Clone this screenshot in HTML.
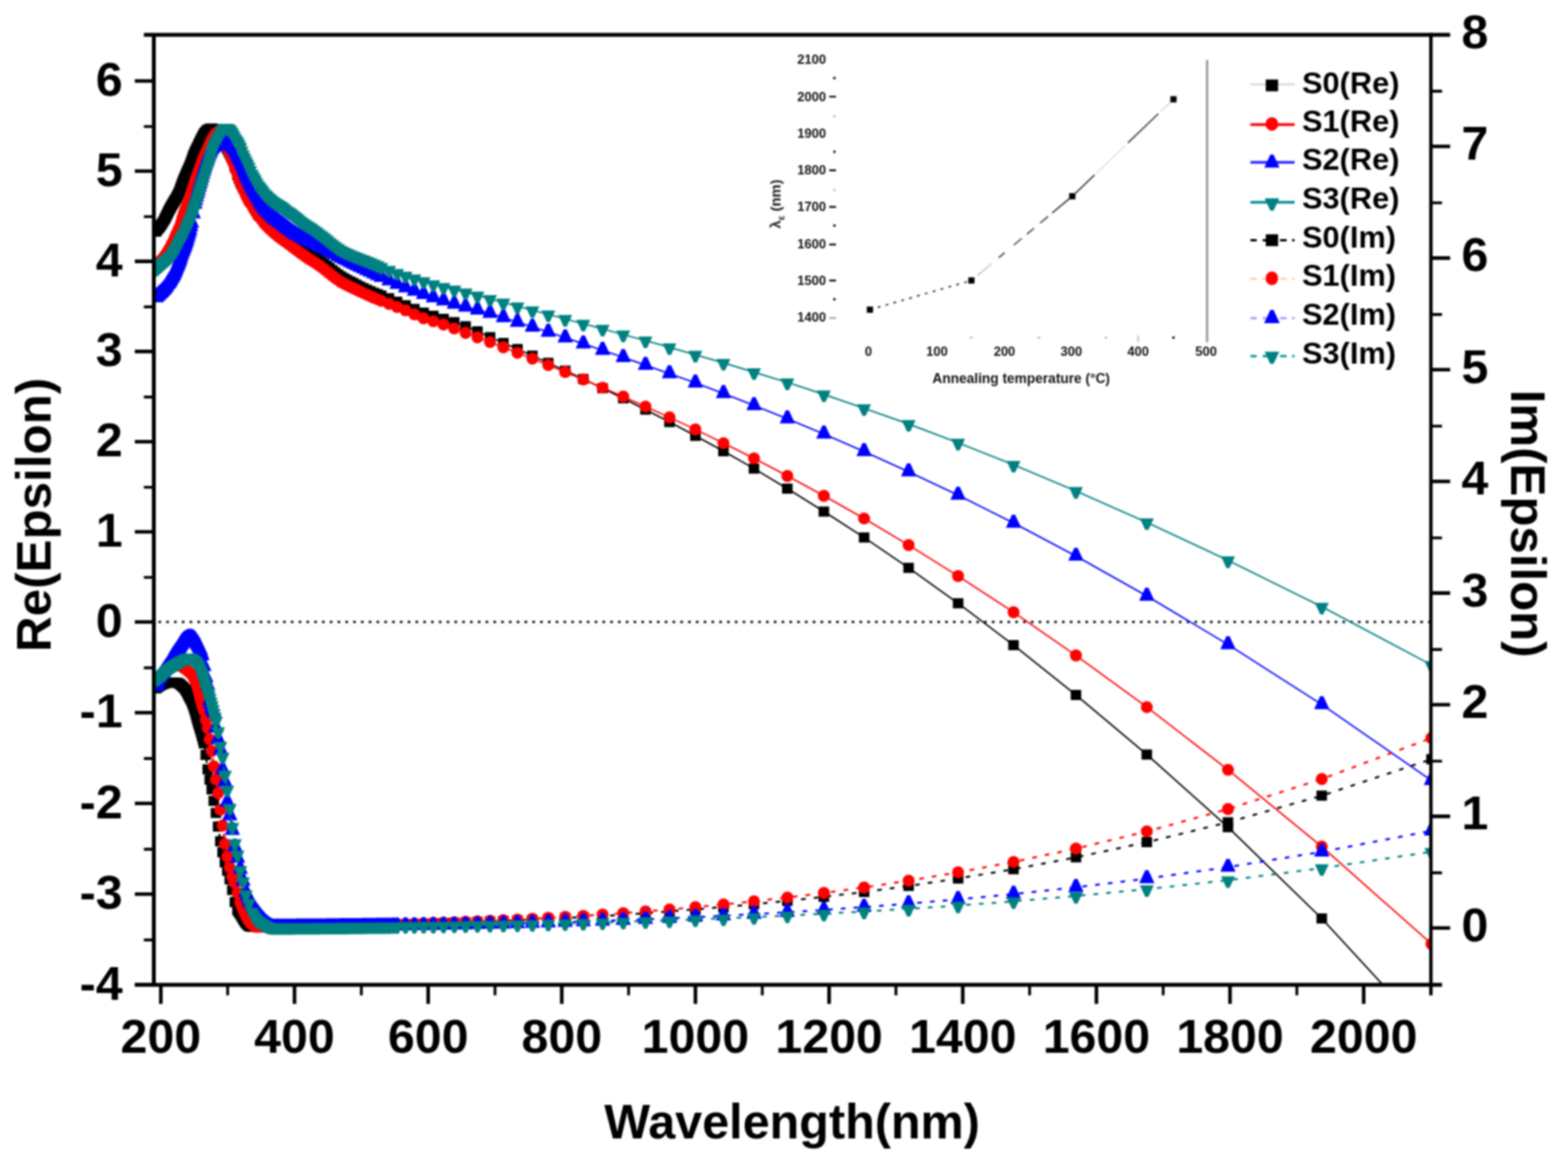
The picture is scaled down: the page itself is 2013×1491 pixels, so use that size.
<!DOCTYPE html>
<html lang="en"><head><meta charset="utf-8"><title>Re/Im Epsilon vs Wavelength</title>
<style>html,body{margin:0;padding:0;background:#fff}body{width:2013px;height:1491px;overflow:hidden}svg{display:block;filter:blur(0.8px)}</style>
</head><body>
<svg xmlns="http://www.w3.org/2000/svg" width="2013" height="1491" viewBox="0 0 2013 1491" font-family='"Liberation Sans", Arial, Helvetica, sans-serif' font-weight="bold">
<defs><clipPath id="cp"><rect x="197.5" y="44.8" width="1639.5" height="1220.0"/></clipPath></defs>
<rect width="2013" height="1491" fill="#fff"/>
<line x1="1549.7" y1="77" x2="1549.7" y2="439.5" stroke="#9a9a9a" stroke-width="3"/><g font-size="16.6" fill="#111"><text x="1060.5" y="82.4" text-anchor="end">2100</text><text x="1060.5" y="129.8" text-anchor="end">2000</text><text x="1060.5" y="176.6" text-anchor="end">1900</text><text x="1060.5" y="224" text-anchor="end">1800</text><text x="1060.5" y="271.4" text-anchor="end">1700</text><text x="1060.5" y="318.8" text-anchor="end">1600</text><text x="1060.5" y="366.2" text-anchor="end">1500</text><text x="1060.5" y="413" text-anchor="end">1400</text><text x="1114.9" y="456.6" text-anchor="middle">0</text><text x="1202.8" y="456.6" text-anchor="middle">100</text><text x="1289.5" y="456.6" text-anchor="middle">200</text><text x="1375.4" y="456.6" text-anchor="middle">300</text><text x="1461.1" y="456.6" text-anchor="middle">400</text><text x="1548.3" y="456.6" text-anchor="middle">500</text></g><path d="M1064.6 124.1H1073.2M1064.6 218.7H1073.2M1064.6 265.7H1073.2M1064.6 314H1073.2M1064.6 360.2H1073.2" stroke="#111" stroke-width="2.4" fill="none"/><path d="M1064.6 408.5H1073.2" stroke="#b9a0a0" stroke-width="2.4" fill="none"/><rect x="1069.7" y="98.7" width="3" height="3" fill="#111"/><rect x="1069.7" y="193.4" width="3" height="3" fill="#111"/><rect x="1069.7" y="288.2" width="3" height="3" fill="#111"/><rect x="1069.7" y="382.8" width="3" height="3" fill="#111"/><rect x="1505.0" y="432.0" width="3" height="3" fill="#111"/><rect x="1332.2" y="432.0" width="3" height="3" fill="#b8c4c0"/><rect x="1418.3" y="432.0" width="3" height="3" fill="#b8c4c0"/><rect x="1245.3" y="432.0" width="3" height="3" fill="#b8c4c0"/><rect x="1069.7" y="147.9" width="3" height="3" fill="#b8c4c0"/><rect x="1069.7" y="242.5" width="3" height="3" fill="#b8c4c0"/><line x1="1461.1" y1="431" x2="1461.1" y2="439" stroke="#c8bcd0" stroke-width="2"/><polyline fill="none" stroke="#333" stroke-width="2" stroke-dasharray="3.5 7" points="1116.8,397.7 1247.1,360.2"/><line x1="1254.9" y1="353.7" x2="1273" y2="338.6" stroke="#c4c4c4" stroke-width="1.8"/><line x1="1282.1" y1="331" x2="1289.8" y2="324.5" stroke="#444" stroke-width="1.8"/><line x1="1301.5" y1="314.8" x2="1311.8" y2="306.1" stroke="#555" stroke-width="1.8"/><line x1="1318.3" y1="300.7" x2="1327.4" y2="293.1" stroke="#444" stroke-width="1.8"/><line x1="1335.2" y1="286.6" x2="1345.5" y2="278" stroke="#444" stroke-width="1.8"/><line x1="1350.7" y1="273.6" x2="1372.7" y2="255.2" stroke="#333" stroke-width="1.8"/><line x1="1380.5" y1="248.3" x2="1405.2" y2="224.6" stroke="#333" stroke-width="1.8"/><line x1="1407.8" y1="222.1" x2="1444.1" y2="187.3" stroke="#e2e2e2" stroke-width="1.8"/><line x1="1448" y1="183.5" x2="1487" y2="146.2" stroke="#444" stroke-width="1.8"/><line x1="1489.6" y1="143.7" x2="1502.6" y2="131.2" stroke="#cfdfe4" stroke-width="1.8"/><rect x="1112.8" y="393.7" width="8" height="8" fill="#000"/><rect x="1243.1" y="356.2" width="8" height="8" fill="#000"/><rect x="1372.6" y="248" width="8" height="8" fill="#000"/><rect x="1502.5" y="123.5" width="8" height="8" fill="#000"/><text x="1311" y="492.3" font-size="17.6" text-anchor="middle" fill="#111">Annealing temperature (°C)</text><text transform="translate(1002 262) rotate(-90)" font-size="19" text-anchor="middle" fill="#222">λ<tspan font-size="13" dy="5">ε</tspan><tspan dy="-5"> (nm)</tspan></text>
<line x1="203.5" y1="798.8" x2="1837.0" y2="798.8" stroke="#000" stroke-width="3" stroke-dasharray="3.2 6.8"/>
<g clip-path="url(#cp)">
<polyline fill="none" stroke="#000000" stroke-width="1.9" points="1837.7,1332.5 1696.9,1179.6 1576.5,1062.2 1472.3,969 1381.3,892.4 1301.2,828.4 1230,774.8 1166.5,729.3 1109.3,690.3 1057.7,656.9 1010.8,627.6 968,601.8 928.8,579.4 892.7,559.7 859.5,541.9 828.7,526.1 800.1,511.6 773.6,498.6 748.8,486.7 725.6,476 703.9,466 683.5,456.8 664.3,448.3 646.2,440.4 629.1,433 613,425.6 597.7,419 583.2,413.7 569.4,409.4 556.3,405.4 543.8,401.4 532,396.8 520.6,392 509.8,387.5 499.4,383.1 489.5,379.4 480,376 470.8,372 462.1,367.9 453.7,363.6 445.6,359.5 437.8,355.1 430.3,349.8 423.1,344.1 416.2,338.6 409.4,333.6 403,329.3 396.7,325.2 390.7,321 384.8,316.7 379.1,312.4 373.7,308 368.4,303.6 363.2,299.2 358.2,294.7 353.4,290.2 348.7,285.8 344.1,281.4 339.7,277 335.4,272.6 331.2,268 327.1,263.3 323.2,258.3 319.3,253 315.6,247.2 311.9,240.8 308.4,233.5 304.9,225 301.5,214.6 298.2,204.3 295,197.5 291.8,191.6 288.8,184.8 285.8,178.2 282.9,172.9 280,169.2 277.2,166.7 274.5,165.4 271.8,164.9 269.2,165.2 266.7,166.4 264.2,168.9 261.7,172.1 259.3,176.3 257,181.1 254.7,185.8 252.4,190.5 250.2,195.1 248.1,200 246,205.9 243.9,211.9 241.9,216.9 239.9,221.3 237.9,225.7 236,230.3 234.1,235 232.3,240.1 230.4,245.2 228.7,249.6 226.9,253 225.2,255.9 223.5,258.7 221.9,261.4 220.2,264.2 218.6,267 217.1,269.9 215.5,273.1 214,276.3 212.5,279.4 211,282.2 209.6,284.8 208.2,287.1 206.8,289.1 205.4,291 204,292.6 202.7,294.2 201.4,295.9 200.1,297.6"/>
<path fill="#000000" d="M1831 1326h13.5v13h-13.5zM1690.1 1173.1h13.5v13h-13.5zM1569.7 1055.7h13.5v13h-13.5zM1465.5 962.5h13.5v13h-13.5zM1374.6 885.9h13.5v13h-13.5zM1294.4 821.9h13.5v13h-13.5zM1223.3 768.3h13.5v13h-13.5zM1159.7 722.8h13.5v13h-13.5zM1102.6 683.8h13.5v13h-13.5zM1050.9 650.4h13.5v13h-13.5zM1004 621.1h13.5v13h-13.5zM961.2 595.3h13.5v13h-13.5zM922 572.9h13.5v13h-13.5zM886 553.2h13.5v13h-13.5zM852.7 535.4h13.5v13h-13.5zM821.9 519.6h13.5v13h-13.5zM793.4 505.1h13.5v13h-13.5zM766.8 492.1h13.5v13h-13.5zM742 480.2h13.5v13h-13.5zM718.9 469.5h13.5v13h-13.5zM697.1 459.5h13.5v13h-13.5zM676.7 450.3h13.5v13h-13.5zM657.6 441.8h13.5v13h-13.5zM639.5 433.9h13.5v13h-13.5zM622.4 426.5h13.5v13h-13.5zM606.2 419.1h13.5v13h-13.5zM591 412.5h13.5v13h-13.5zM576.4 407.2h13.5v13h-13.5zM562.7 402.9h13.5v13h-13.5zM549.6 398.9h13.5v13h-13.5zM537.1 394.9h13.5v13h-13.5zM525.2 390.3h13.5v13h-13.5zM513.9 385.5h13.5v13h-13.5zM503 381h13.5v13h-13.5zM492.6 376.6h13.5v13h-13.5zM482.7 372.9h13.5v13h-13.5zM478 371.2h13.5v13h-13.5zM473.2 369.5h13.5v13h-13.5zM468.7 367.5h13.5v13h-13.5zM464.1 365.5h13.5v13h-13.5zM459.7 363.5h13.5v13h-13.5zM455.3 361.4h13.5v13h-13.5zM451.1 359.3h13.5v13h-13.5zM446.9 357.1h13.5v13h-13.5zM442.9 355.1h13.5v13h-13.5zM438.8 353h13.5v13h-13.5zM435 350.8h13.5v13h-13.5zM431.1 348.6h13.5v13h-13.5zM427.3 346h13.5v13h-13.5zM423.6 343.3h13.5v13h-13.5zM420 340.5h13.5v13h-13.5zM416.4 337.6h13.5v13h-13.5zM412.9 334.9h13.5v13h-13.5zM409.4 332.1h13.5v13h-13.5zM406.1 329.6h13.5v13h-13.5zM402.7 327.1h13.5v13h-13.5zM399.5 325h13.5v13h-13.5zM396.2 322.8h13.5v13h-13.5zM393.1 320.8h13.5v13h-13.5zM390 318.7h13.5v13h-13.5zM386.9 316.6h13.5v13h-13.5zM383.9 314.5h13.5v13h-13.5zM381 312.4h13.5v13h-13.5zM378.1 310.2h13.5v13h-13.5zM375.2 308.1h13.5v13h-13.5zM372.4 305.9h13.5v13h-13.5zM369.7 303.7h13.5v13h-13.5zM366.9 301.5h13.5v13h-13.5zM364.3 299.3h13.5v13h-13.5zM361.6 297.1h13.5v13h-13.5zM359 294.9h13.5v13h-13.5zM356.5 292.7h13.5v13h-13.5zM354 290.4h13.5v13h-13.5zM351.5 288.2h13.5v13h-13.5zM349.1 285.9h13.5v13h-13.5zM346.6 283.7h13.5v13h-13.5zM344.3 281.5h13.5v13h-13.5zM341.9 279.3h13.5v13h-13.5zM339.7 277.1h13.5v13h-13.5zM337.4 274.9h13.5v13h-13.5zM335.2 272.7h13.5v13h-13.5zM332.9 270.5h13.5v13h-13.5zM330.8 268.3h13.5v13h-13.5zM328.6 266.1h13.5v13h-13.5zM326.5 263.8h13.5v13h-13.5zM324.5 261.5h13.5v13h-13.5zM322.4 259.1h13.5v13h-13.5zM320.4 256.8h13.5v13h-13.5zM318.4 254.3h13.5v13h-13.5zM316.4 251.8h13.5v13h-13.5zM314.5 249.2h13.5v13h-13.5zM312.6 246.5h13.5v13h-13.5zM310.7 243.6h13.5v13h-13.5zM308.8 240.7h13.5v13h-13.5zM307 237.5h13.5v13h-13.5zM305.2 234.3h13.5v13h-13.5zM303.4 230.7h13.5v13h-13.5zM301.6 227h13.5v13h-13.5zM299.9 222.8h13.5v13h-13.5zM298.1 218.5h13.5v13h-13.5zM294.8 208.1h13.5v13h-13.5zM291.5 197.8h13.5v13h-13.5zM289.8 194.4h13.5v13h-13.5zM288.2 191h13.5v13h-13.5zM286.7 188h13.5v13h-13.5zM285.1 185.1h13.5v13h-13.5zM283.6 181.7h13.5v13h-13.5zM282 178.3h13.5v13h-13.5zM280.5 175h13.5v13h-13.5zM279 171.7h13.5v13h-13.5zM277.6 169.1h13.5v13h-13.5zM276.1 166.4h13.5v13h-13.5zM274.7 164.5h13.5v13h-13.5zM273.3 162.7h13.5v13h-13.5zM271.9 161.4h13.5v13h-13.5zM270.5 160.2h13.5v13h-13.5zM269.1 159.5h13.5v13h-13.5zM267.7 158.9h13.5v13h-13.5zM265.1 158.4h13.5v13h-13.5zM262.5 158.7h13.5v13h-13.5zM259.9 159.9h13.5v13h-13.5zM258.7 161.2h13.5v13h-13.5zM257.4 162.4h13.5v13h-13.5zM256.2 164h13.5v13h-13.5zM255 165.6h13.5v13h-13.5zM253.8 167.7h13.5v13h-13.5zM252.6 169.8h13.5v13h-13.5zM251.4 172.2h13.5v13h-13.5zM250.2 174.6h13.5v13h-13.5zM249.1 176.9h13.5v13h-13.5zM247.9 179.3h13.5v13h-13.5zM246.8 181.7h13.5v13h-13.5zM245.7 184h13.5v13h-13.5zM244.6 186.3h13.5v13h-13.5zM243.5 188.6h13.5v13h-13.5zM242.4 191h13.5v13h-13.5zM241.3 193.5h13.5v13h-13.5zM240.3 196.4h13.5v13h-13.5zM239.2 199.4h13.5v13h-13.5zM238.2 202.4h13.5v13h-13.5zM237.1 205.4h13.5v13h-13.5zM236.1 207.9h13.5v13h-13.5zM235.1 210.4h13.5v13h-13.5zM234.1 212.6h13.5v13h-13.5zM233.1 214.8h13.5v13h-13.5zM232.1 217h13.5v13h-13.5zM231.2 219.2h13.5v13h-13.5zM230.2 221.5h13.5v13h-13.5zM229.2 223.8h13.5v13h-13.5zM228.3 226.1h13.5v13h-13.5zM227.4 228.5h13.5v13h-13.5zM226.4 231.1h13.5v13h-13.5zM225.5 233.6h13.5v13h-13.5zM224.6 236.2h13.5v13h-13.5zM223.7 238.7h13.5v13h-13.5zM222.8 240.9h13.5v13h-13.5zM221.9 243.1h13.5v13h-13.5zM221 244.8h13.5v13h-13.5zM220.2 246.5h13.5v13h-13.5zM219.3 248h13.5v13h-13.5zM218.4 249.4h13.5v13h-13.5zM217.6 250.8h13.5v13h-13.5zM216.8 252.2h13.5v13h-13.5zM215.9 253.6h13.5v13h-13.5zM215.1 254.9h13.5v13h-13.5zM214.3 256.3h13.5v13h-13.5zM213.5 257.7h13.5v13h-13.5zM212.7 259.1h13.5v13h-13.5zM211.9 260.5h13.5v13h-13.5zM211.1 262h13.5v13h-13.5zM210.3 263.4h13.5v13h-13.5zM209.5 265h13.5v13h-13.5zM208.8 266.6h13.5v13h-13.5zM208 268.2h13.5v13h-13.5zM207.2 269.8h13.5v13h-13.5zM206.5 271.3h13.5v13h-13.5zM205.7 272.9h13.5v13h-13.5zM205 274.3h13.5v13h-13.5zM204.3 275.7h13.5v13h-13.5zM202.8 278.3h13.5v13h-13.5zM201.4 280.6h13.5v13h-13.5zM200 282.6h13.5v13h-13.5zM198.6 284.5h13.5v13h-13.5zM197.3 286.1h13.5v13h-13.5zM195.9 287.7h13.5v13h-13.5zM194.6 289.4h13.5v13h-13.5zM193.3 291.1h13.5v13h-13.5z"/>
<polyline fill="none" stroke="#ff0000" stroke-width="1.9" points="1837.7,1212.2 1696.9,1087.3 1576.5,988.6 1472.3,908.1 1381.3,841.8 1301.2,786.3 1230,739.8 1166.5,700 1109.3,665.9 1057.7,636.7 1010.8,611.2 968,588.6 928.8,569.1 892.7,551.5 859.5,536 828.7,522.1 800.1,509.3 773.6,497.9 748.8,487.3 725.6,477.8 703.9,468.9 683.5,460.6 664.3,453.1 646.2,446 629.1,439.4 613,433.2 597.7,427.5 583.2,421.9 569.4,416.7 556.3,412.6 543.8,408.7 532,403.7 520.6,398.5 509.8,394.3 499.4,390.3 489.5,386.4 480,382.5 470.8,378.4 462.1,374.3 453.7,370.2 445.6,366.3 437.8,362.2 430.3,357 423.1,351.3 416.2,345.8 409.4,340.7 403,336.4 396.7,332.5 390.7,328.5 384.8,324.3 379.1,320 373.7,315.9 368.4,311.9 363.2,308.2 358.2,304.5 353.4,300.6 348.7,296.4 344.1,292.1 339.7,287.5 335.4,281.6 331.2,277.3 327.1,270.4 323.2,263.5 319.3,258.2 315.6,250.6 311.9,241.7 308.4,234 304.9,224.3 301.5,214.9 298.2,205.4 295,197.4 291.8,188.6 288.8,178.8 285.8,171.7 282.9,168.6 280,169.3 277.2,171.3 274.5,174.6 271.8,179.3 269.2,185.1 266.7,191.3 264.2,196.7 261.7,202.1 259.3,208.3 257,214.8 254.7,220.6 252.4,226.5 250.2,233.1 248.1,240.4 246,247.3 243.9,253.6 241.9,258.9 239.9,263.8 237.9,268.7 236,274.3 234.1,280.8 232.3,286.9 230.4,291.9 228.7,296 226.9,299.8 225.2,303.6 223.5,307.4 221.9,311.1 220.2,314.5 218.6,317.5 217.1,320.2 215.5,322.7 214,325 212.5,327.2 211,329.2 209.6,331.1 208.2,332.8 206.8,334.3 205.4,335.5 204,336.6 202.7,337.7 201.4,338.9 200.1,340.1"/>
<path fill="#ff0000" d="M1830 1212.2a7.7 7.7 0 1 0 15.4 0a7.7 7.7 0 1 0 -15.4 0zM1689.2 1087.3a7.7 7.7 0 1 0 15.4 0a7.7 7.7 0 1 0 -15.4 0zM1568.8 988.6a7.7 7.7 0 1 0 15.4 0a7.7 7.7 0 1 0 -15.4 0zM1464.6 908.1a7.7 7.7 0 1 0 15.4 0a7.7 7.7 0 1 0 -15.4 0zM1373.6 841.8a7.7 7.7 0 1 0 15.4 0a7.7 7.7 0 1 0 -15.4 0zM1293.5 786.3a7.7 7.7 0 1 0 15.4 0a7.7 7.7 0 1 0 -15.4 0zM1222.3 739.8a7.7 7.7 0 1 0 15.4 0a7.7 7.7 0 1 0 -15.4 0zM1158.8 700a7.7 7.7 0 1 0 15.4 0a7.7 7.7 0 1 0 -15.4 0zM1101.6 665.9a7.7 7.7 0 1 0 15.4 0a7.7 7.7 0 1 0 -15.4 0zM1050 636.7a7.7 7.7 0 1 0 15.4 0a7.7 7.7 0 1 0 -15.4 0zM1003.1 611.2a7.7 7.7 0 1 0 15.4 0a7.7 7.7 0 1 0 -15.4 0zM960.3 588.6a7.7 7.7 0 1 0 15.4 0a7.7 7.7 0 1 0 -15.4 0zM921.1 569.1a7.7 7.7 0 1 0 15.4 0a7.7 7.7 0 1 0 -15.4 0zM885 551.5a7.7 7.7 0 1 0 15.4 0a7.7 7.7 0 1 0 -15.4 0zM851.8 536a7.7 7.7 0 1 0 15.4 0a7.7 7.7 0 1 0 -15.4 0zM821 522.1a7.7 7.7 0 1 0 15.4 0a7.7 7.7 0 1 0 -15.4 0zM792.4 509.3a7.7 7.7 0 1 0 15.4 0a7.7 7.7 0 1 0 -15.4 0zM765.9 497.9a7.7 7.7 0 1 0 15.4 0a7.7 7.7 0 1 0 -15.4 0zM741.1 487.3a7.7 7.7 0 1 0 15.4 0a7.7 7.7 0 1 0 -15.4 0zM717.9 477.8a7.7 7.7 0 1 0 15.4 0a7.7 7.7 0 1 0 -15.4 0zM696.2 468.9a7.7 7.7 0 1 0 15.4 0a7.7 7.7 0 1 0 -15.4 0zM675.8 460.6a7.7 7.7 0 1 0 15.4 0a7.7 7.7 0 1 0 -15.4 0zM656.6 453.1a7.7 7.7 0 1 0 15.4 0a7.7 7.7 0 1 0 -15.4 0zM638.5 446a7.7 7.7 0 1 0 15.4 0a7.7 7.7 0 1 0 -15.4 0zM621.4 439.4a7.7 7.7 0 1 0 15.4 0a7.7 7.7 0 1 0 -15.4 0zM605.3 433.2a7.7 7.7 0 1 0 15.4 0a7.7 7.7 0 1 0 -15.4 0zM590 427.5a7.7 7.7 0 1 0 15.4 0a7.7 7.7 0 1 0 -15.4 0zM575.5 421.9a7.7 7.7 0 1 0 15.4 0a7.7 7.7 0 1 0 -15.4 0zM561.7 416.7a7.7 7.7 0 1 0 15.4 0a7.7 7.7 0 1 0 -15.4 0zM548.6 412.6a7.7 7.7 0 1 0 15.4 0a7.7 7.7 0 1 0 -15.4 0zM536.1 408.7a7.7 7.7 0 1 0 15.4 0a7.7 7.7 0 1 0 -15.4 0zM524.3 403.7a7.7 7.7 0 1 0 15.4 0a7.7 7.7 0 1 0 -15.4 0zM512.9 398.5a7.7 7.7 0 1 0 15.4 0a7.7 7.7 0 1 0 -15.4 0zM502.1 394.3a7.7 7.7 0 1 0 15.4 0a7.7 7.7 0 1 0 -15.4 0zM491.7 390.3a7.7 7.7 0 1 0 15.4 0a7.7 7.7 0 1 0 -15.4 0zM481.8 386.4a7.7 7.7 0 1 0 15.4 0a7.7 7.7 0 1 0 -15.4 0zM477 384.4a7.7 7.7 0 1 0 15.4 0a7.7 7.7 0 1 0 -15.4 0zM472.3 382.5a7.7 7.7 0 1 0 15.4 0a7.7 7.7 0 1 0 -15.4 0zM467.7 380.4a7.7 7.7 0 1 0 15.4 0a7.7 7.7 0 1 0 -15.4 0zM463.1 378.4a7.7 7.7 0 1 0 15.4 0a7.7 7.7 0 1 0 -15.4 0zM458.8 376.4a7.7 7.7 0 1 0 15.4 0a7.7 7.7 0 1 0 -15.4 0zM454.4 374.3a7.7 7.7 0 1 0 15.4 0a7.7 7.7 0 1 0 -15.4 0zM450.2 372.3a7.7 7.7 0 1 0 15.4 0a7.7 7.7 0 1 0 -15.4 0zM446 370.2a7.7 7.7 0 1 0 15.4 0a7.7 7.7 0 1 0 -15.4 0zM441.9 368.3a7.7 7.7 0 1 0 15.4 0a7.7 7.7 0 1 0 -15.4 0zM437.9 366.3a7.7 7.7 0 1 0 15.4 0a7.7 7.7 0 1 0 -15.4 0zM434 364.2a7.7 7.7 0 1 0 15.4 0a7.7 7.7 0 1 0 -15.4 0zM430.1 362.2a7.7 7.7 0 1 0 15.4 0a7.7 7.7 0 1 0 -15.4 0zM426.4 359.6a7.7 7.7 0 1 0 15.4 0a7.7 7.7 0 1 0 -15.4 0zM422.6 357a7.7 7.7 0 1 0 15.4 0a7.7 7.7 0 1 0 -15.4 0zM419 354.2a7.7 7.7 0 1 0 15.4 0a7.7 7.7 0 1 0 -15.4 0zM415.4 351.3a7.7 7.7 0 1 0 15.4 0a7.7 7.7 0 1 0 -15.4 0zM411.9 348.6a7.7 7.7 0 1 0 15.4 0a7.7 7.7 0 1 0 -15.4 0zM408.5 345.8a7.7 7.7 0 1 0 15.4 0a7.7 7.7 0 1 0 -15.4 0zM405.1 343.3a7.7 7.7 0 1 0 15.4 0a7.7 7.7 0 1 0 -15.4 0zM401.7 340.7a7.7 7.7 0 1 0 15.4 0a7.7 7.7 0 1 0 -15.4 0zM398.5 338.6a7.7 7.7 0 1 0 15.4 0a7.7 7.7 0 1 0 -15.4 0zM395.3 336.4a7.7 7.7 0 1 0 15.4 0a7.7 7.7 0 1 0 -15.4 0zM392.1 334.5a7.7 7.7 0 1 0 15.4 0a7.7 7.7 0 1 0 -15.4 0zM389 332.5a7.7 7.7 0 1 0 15.4 0a7.7 7.7 0 1 0 -15.4 0zM386 330.5a7.7 7.7 0 1 0 15.4 0a7.7 7.7 0 1 0 -15.4 0zM383 328.5a7.7 7.7 0 1 0 15.4 0a7.7 7.7 0 1 0 -15.4 0zM380 326.4a7.7 7.7 0 1 0 15.4 0a7.7 7.7 0 1 0 -15.4 0zM377.1 324.3a7.7 7.7 0 1 0 15.4 0a7.7 7.7 0 1 0 -15.4 0zM374.3 322.1a7.7 7.7 0 1 0 15.4 0a7.7 7.7 0 1 0 -15.4 0zM371.4 320a7.7 7.7 0 1 0 15.4 0a7.7 7.7 0 1 0 -15.4 0zM368.7 317.9a7.7 7.7 0 1 0 15.4 0a7.7 7.7 0 1 0 -15.4 0zM366 315.9a7.7 7.7 0 1 0 15.4 0a7.7 7.7 0 1 0 -15.4 0zM363.3 313.9a7.7 7.7 0 1 0 15.4 0a7.7 7.7 0 1 0 -15.4 0zM360.7 311.9a7.7 7.7 0 1 0 15.4 0a7.7 7.7 0 1 0 -15.4 0zM358.1 310.1a7.7 7.7 0 1 0 15.4 0a7.7 7.7 0 1 0 -15.4 0zM355.5 308.2a7.7 7.7 0 1 0 15.4 0a7.7 7.7 0 1 0 -15.4 0zM353 306.4a7.7 7.7 0 1 0 15.4 0a7.7 7.7 0 1 0 -15.4 0zM350.5 304.5a7.7 7.7 0 1 0 15.4 0a7.7 7.7 0 1 0 -15.4 0zM348.1 302.6a7.7 7.7 0 1 0 15.4 0a7.7 7.7 0 1 0 -15.4 0zM345.7 300.6a7.7 7.7 0 1 0 15.4 0a7.7 7.7 0 1 0 -15.4 0zM343.3 298.5a7.7 7.7 0 1 0 15.4 0a7.7 7.7 0 1 0 -15.4 0zM341 296.4a7.7 7.7 0 1 0 15.4 0a7.7 7.7 0 1 0 -15.4 0zM338.7 294.3a7.7 7.7 0 1 0 15.4 0a7.7 7.7 0 1 0 -15.4 0zM336.4 292.1a7.7 7.7 0 1 0 15.4 0a7.7 7.7 0 1 0 -15.4 0zM334.2 289.8a7.7 7.7 0 1 0 15.4 0a7.7 7.7 0 1 0 -15.4 0zM332 287.5a7.7 7.7 0 1 0 15.4 0a7.7 7.7 0 1 0 -15.4 0zM329.8 284.5a7.7 7.7 0 1 0 15.4 0a7.7 7.7 0 1 0 -15.4 0zM327.7 281.6a7.7 7.7 0 1 0 15.4 0a7.7 7.7 0 1 0 -15.4 0zM325.6 279.4a7.7 7.7 0 1 0 15.4 0a7.7 7.7 0 1 0 -15.4 0zM323.5 277.3a7.7 7.7 0 1 0 15.4 0a7.7 7.7 0 1 0 -15.4 0zM321.5 273.8a7.7 7.7 0 1 0 15.4 0a7.7 7.7 0 1 0 -15.4 0zM319.4 270.4a7.7 7.7 0 1 0 15.4 0a7.7 7.7 0 1 0 -15.4 0zM317.5 267a7.7 7.7 0 1 0 15.4 0a7.7 7.7 0 1 0 -15.4 0zM315.5 263.5a7.7 7.7 0 1 0 15.4 0a7.7 7.7 0 1 0 -15.4 0zM313.5 260.9a7.7 7.7 0 1 0 15.4 0a7.7 7.7 0 1 0 -15.4 0zM311.6 258.2a7.7 7.7 0 1 0 15.4 0a7.7 7.7 0 1 0 -15.4 0zM309.7 254.4a7.7 7.7 0 1 0 15.4 0a7.7 7.7 0 1 0 -15.4 0zM307.9 250.6a7.7 7.7 0 1 0 15.4 0a7.7 7.7 0 1 0 -15.4 0zM306 246.1a7.7 7.7 0 1 0 15.4 0a7.7 7.7 0 1 0 -15.4 0zM304.2 241.7a7.7 7.7 0 1 0 15.4 0a7.7 7.7 0 1 0 -15.4 0zM302.4 237.8a7.7 7.7 0 1 0 15.4 0a7.7 7.7 0 1 0 -15.4 0zM300.7 234a7.7 7.7 0 1 0 15.4 0a7.7 7.7 0 1 0 -15.4 0zM298.9 229.1a7.7 7.7 0 1 0 15.4 0a7.7 7.7 0 1 0 -15.4 0zM297.2 224.3a7.7 7.7 0 1 0 15.4 0a7.7 7.7 0 1 0 -15.4 0zM295.5 219.6a7.7 7.7 0 1 0 15.4 0a7.7 7.7 0 1 0 -15.4 0zM293.8 214.9a7.7 7.7 0 1 0 15.4 0a7.7 7.7 0 1 0 -15.4 0zM292.2 210.2a7.7 7.7 0 1 0 15.4 0a7.7 7.7 0 1 0 -15.4 0zM290.5 205.4a7.7 7.7 0 1 0 15.4 0a7.7 7.7 0 1 0 -15.4 0zM288.9 201.4a7.7 7.7 0 1 0 15.4 0a7.7 7.7 0 1 0 -15.4 0zM287.3 197.4a7.7 7.7 0 1 0 15.4 0a7.7 7.7 0 1 0 -15.4 0zM285.7 193a7.7 7.7 0 1 0 15.4 0a7.7 7.7 0 1 0 -15.4 0zM284.1 188.6a7.7 7.7 0 1 0 15.4 0a7.7 7.7 0 1 0 -15.4 0zM282.6 183.7a7.7 7.7 0 1 0 15.4 0a7.7 7.7 0 1 0 -15.4 0zM281.1 178.8a7.7 7.7 0 1 0 15.4 0a7.7 7.7 0 1 0 -15.4 0zM279.6 175.3a7.7 7.7 0 1 0 15.4 0a7.7 7.7 0 1 0 -15.4 0zM278.1 171.7a7.7 7.7 0 1 0 15.4 0a7.7 7.7 0 1 0 -15.4 0zM276.6 170.2a7.7 7.7 0 1 0 15.4 0a7.7 7.7 0 1 0 -15.4 0zM275.2 168.6a7.7 7.7 0 1 0 15.4 0a7.7 7.7 0 1 0 -15.4 0zM272.3 169.3a7.7 7.7 0 1 0 15.4 0a7.7 7.7 0 1 0 -15.4 0zM270.9 170.3a7.7 7.7 0 1 0 15.4 0a7.7 7.7 0 1 0 -15.4 0zM269.5 171.3a7.7 7.7 0 1 0 15.4 0a7.7 7.7 0 1 0 -15.4 0zM268.1 172.9a7.7 7.7 0 1 0 15.4 0a7.7 7.7 0 1 0 -15.4 0zM266.8 174.6a7.7 7.7 0 1 0 15.4 0a7.7 7.7 0 1 0 -15.4 0zM265.4 176.9a7.7 7.7 0 1 0 15.4 0a7.7 7.7 0 1 0 -15.4 0zM264.1 179.3a7.7 7.7 0 1 0 15.4 0a7.7 7.7 0 1 0 -15.4 0zM262.8 182.2a7.7 7.7 0 1 0 15.4 0a7.7 7.7 0 1 0 -15.4 0zM261.5 185.1a7.7 7.7 0 1 0 15.4 0a7.7 7.7 0 1 0 -15.4 0zM260.2 188.2a7.7 7.7 0 1 0 15.4 0a7.7 7.7 0 1 0 -15.4 0zM259 191.3a7.7 7.7 0 1 0 15.4 0a7.7 7.7 0 1 0 -15.4 0zM257.7 194a7.7 7.7 0 1 0 15.4 0a7.7 7.7 0 1 0 -15.4 0zM256.5 196.7a7.7 7.7 0 1 0 15.4 0a7.7 7.7 0 1 0 -15.4 0zM255.2 199.4a7.7 7.7 0 1 0 15.4 0a7.7 7.7 0 1 0 -15.4 0zM254 202.1a7.7 7.7 0 1 0 15.4 0a7.7 7.7 0 1 0 -15.4 0zM252.8 205.2a7.7 7.7 0 1 0 15.4 0a7.7 7.7 0 1 0 -15.4 0zM251.6 208.3a7.7 7.7 0 1 0 15.4 0a7.7 7.7 0 1 0 -15.4 0zM250.4 211.6a7.7 7.7 0 1 0 15.4 0a7.7 7.7 0 1 0 -15.4 0zM249.3 214.8a7.7 7.7 0 1 0 15.4 0a7.7 7.7 0 1 0 -15.4 0zM248.1 217.7a7.7 7.7 0 1 0 15.4 0a7.7 7.7 0 1 0 -15.4 0zM247 220.6a7.7 7.7 0 1 0 15.4 0a7.7 7.7 0 1 0 -15.4 0zM245.9 223.5a7.7 7.7 0 1 0 15.4 0a7.7 7.7 0 1 0 -15.4 0zM244.7 226.5a7.7 7.7 0 1 0 15.4 0a7.7 7.7 0 1 0 -15.4 0zM243.6 229.8a7.7 7.7 0 1 0 15.4 0a7.7 7.7 0 1 0 -15.4 0zM242.5 233.1a7.7 7.7 0 1 0 15.4 0a7.7 7.7 0 1 0 -15.4 0zM241.5 236.7a7.7 7.7 0 1 0 15.4 0a7.7 7.7 0 1 0 -15.4 0zM240.4 240.4a7.7 7.7 0 1 0 15.4 0a7.7 7.7 0 1 0 -15.4 0zM239.3 243.8a7.7 7.7 0 1 0 15.4 0a7.7 7.7 0 1 0 -15.4 0zM238.3 247.3a7.7 7.7 0 1 0 15.4 0a7.7 7.7 0 1 0 -15.4 0zM237.2 250.5a7.7 7.7 0 1 0 15.4 0a7.7 7.7 0 1 0 -15.4 0zM236.2 253.6a7.7 7.7 0 1 0 15.4 0a7.7 7.7 0 1 0 -15.4 0zM235.2 256.3a7.7 7.7 0 1 0 15.4 0a7.7 7.7 0 1 0 -15.4 0zM234.2 258.9a7.7 7.7 0 1 0 15.4 0a7.7 7.7 0 1 0 -15.4 0zM233.2 261.4a7.7 7.7 0 1 0 15.4 0a7.7 7.7 0 1 0 -15.4 0zM232.2 263.8a7.7 7.7 0 1 0 15.4 0a7.7 7.7 0 1 0 -15.4 0zM231.2 266.2a7.7 7.7 0 1 0 15.4 0a7.7 7.7 0 1 0 -15.4 0zM230.2 268.7a7.7 7.7 0 1 0 15.4 0a7.7 7.7 0 1 0 -15.4 0zM229.2 271.5a7.7 7.7 0 1 0 15.4 0a7.7 7.7 0 1 0 -15.4 0zM228.3 274.3a7.7 7.7 0 1 0 15.4 0a7.7 7.7 0 1 0 -15.4 0zM227.3 277.6a7.7 7.7 0 1 0 15.4 0a7.7 7.7 0 1 0 -15.4 0zM226.4 280.8a7.7 7.7 0 1 0 15.4 0a7.7 7.7 0 1 0 -15.4 0zM225.5 283.9a7.7 7.7 0 1 0 15.4 0a7.7 7.7 0 1 0 -15.4 0zM224.6 286.9a7.7 7.7 0 1 0 15.4 0a7.7 7.7 0 1 0 -15.4 0zM223.7 289.4a7.7 7.7 0 1 0 15.4 0a7.7 7.7 0 1 0 -15.4 0zM222.7 291.9a7.7 7.7 0 1 0 15.4 0a7.7 7.7 0 1 0 -15.4 0zM221.9 294a7.7 7.7 0 1 0 15.4 0a7.7 7.7 0 1 0 -15.4 0zM221 296a7.7 7.7 0 1 0 15.4 0a7.7 7.7 0 1 0 -15.4 0zM220.1 297.9a7.7 7.7 0 1 0 15.4 0a7.7 7.7 0 1 0 -15.4 0zM219.2 299.8a7.7 7.7 0 1 0 15.4 0a7.7 7.7 0 1 0 -15.4 0zM218.4 301.7a7.7 7.7 0 1 0 15.4 0a7.7 7.7 0 1 0 -15.4 0zM217.5 303.6a7.7 7.7 0 1 0 15.4 0a7.7 7.7 0 1 0 -15.4 0zM216.7 305.5a7.7 7.7 0 1 0 15.4 0a7.7 7.7 0 1 0 -15.4 0zM215.8 307.4a7.7 7.7 0 1 0 15.4 0a7.7 7.7 0 1 0 -15.4 0zM215 309.3a7.7 7.7 0 1 0 15.4 0a7.7 7.7 0 1 0 -15.4 0zM214.2 311.1a7.7 7.7 0 1 0 15.4 0a7.7 7.7 0 1 0 -15.4 0zM213.3 312.8a7.7 7.7 0 1 0 15.4 0a7.7 7.7 0 1 0 -15.4 0zM212.5 314.5a7.7 7.7 0 1 0 15.4 0a7.7 7.7 0 1 0 -15.4 0zM211.7 316a7.7 7.7 0 1 0 15.4 0a7.7 7.7 0 1 0 -15.4 0zM210.9 317.5a7.7 7.7 0 1 0 15.4 0a7.7 7.7 0 1 0 -15.4 0zM210.1 318.8a7.7 7.7 0 1 0 15.4 0a7.7 7.7 0 1 0 -15.4 0zM209.4 320.2a7.7 7.7 0 1 0 15.4 0a7.7 7.7 0 1 0 -15.4 0zM207.8 322.7a7.7 7.7 0 1 0 15.4 0a7.7 7.7 0 1 0 -15.4 0zM206.3 325a7.7 7.7 0 1 0 15.4 0a7.7 7.7 0 1 0 -15.4 0zM204.8 327.2a7.7 7.7 0 1 0 15.4 0a7.7 7.7 0 1 0 -15.4 0zM203.3 329.2a7.7 7.7 0 1 0 15.4 0a7.7 7.7 0 1 0 -15.4 0zM201.9 331.1a7.7 7.7 0 1 0 15.4 0a7.7 7.7 0 1 0 -15.4 0zM200.5 332.8a7.7 7.7 0 1 0 15.4 0a7.7 7.7 0 1 0 -15.4 0zM199.1 334.3a7.7 7.7 0 1 0 15.4 0a7.7 7.7 0 1 0 -15.4 0zM197.7 335.5a7.7 7.7 0 1 0 15.4 0a7.7 7.7 0 1 0 -15.4 0zM196.3 336.6a7.7 7.7 0 1 0 15.4 0a7.7 7.7 0 1 0 -15.4 0zM195 337.7a7.7 7.7 0 1 0 15.4 0a7.7 7.7 0 1 0 -15.4 0zM193.7 338.9a7.7 7.7 0 1 0 15.4 0a7.7 7.7 0 1 0 -15.4 0zM192.4 340.1a7.7 7.7 0 1 0 15.4 0a7.7 7.7 0 1 0 -15.4 0z"/>
<polyline fill="none" stroke="#0000ff" stroke-width="1.9" points="1837.7,1002.3 1696.9,904.7 1576.5,827.7 1472.3,765.4 1381.3,714.1 1301.2,671.7 1230,635.8 1166.5,605.8 1109.3,579.8 1057.7,557.3 1010.8,537.8 968,520.7 928.8,505.3 892.7,491.7 859.5,479.8 828.7,469 800.1,458.9 773.6,449.8 748.8,441.5 725.6,433.7 703.9,426.4 683.5,419.9 664.3,413.7 646.2,407.8 629.1,402.2 613,397.9 597.7,394.2 583.2,390.4 569.4,386.3 556.3,382.2 543.8,378 532,373.8 520.6,369.5 509.8,365.1 499.4,360.5 489.5,355.9 480,351.5 470.8,347.2 462.1,343 453.7,338.9 445.6,334.8 437.8,330.9 430.3,326.8 423.1,322.9 416.2,319.3 409.4,316.1 403,313 396.7,310.1 390.7,307.1 384.8,304 379.1,300.9 373.7,297.2 368.4,293.2 363.2,289.2 358.2,285.4 353.4,281.9 348.7,277.8 344.1,273.4 339.7,268.6 335.4,262.8 331.2,255.3 327.1,248.2 323.2,241.4 319.3,233.6 315.6,225.4 311.9,216.3 308.4,207.8 304.9,200.4 301.5,193.5 298.2,188.7 295,186 291.8,184.7 288.8,184.6 285.8,184.9 282.9,185.3 280,185.9 277.2,186.9 274.5,188.6 271.8,191.8 269.2,197.6 266.7,204.5 264.2,211.1 261.7,219.3 259.3,228 257,236.1 254.7,244.2 252.4,252.4 250.2,262 248.1,274.4 246,286.5 243.9,295.4 241.9,302.2 239.9,309 237.9,314.7 236,319.4 234.1,324.1 232.3,329.6 230.4,335.1 228.7,339.5 226.9,343.6 225.2,348 223.5,351.7 221.9,354.8 220.2,357.6 218.6,360.2 217.1,362.7 215.5,365.3 214,367.7 212.5,369.8 211,371.5 209.6,373.1 208.2,374.6 206.8,375.9 205.4,377.2 204,378.5 202.7,379.8 201.4,381.1 200.1,382.3"/>
<path fill="#0000ff" d="M1835.7 991.6h4L1847.5 1008.3h-19.6zM1694.9 894h4L1706.7 910.7h-19.6zM1574.5 817h4L1586.3 833.7h-19.6zM1470.3 754.7h4L1482.1 771.4h-19.6zM1379.3 703.4h4L1391.1 720.1h-19.6zM1299.2 661h4L1311 677.7h-19.6zM1228 625.1h4L1239.8 641.8h-19.6zM1164.5 595.1h4L1176.3 611.8h-19.6zM1107.3 569.1h4L1119.1 585.8h-19.6zM1055.7 546.6h4L1067.5 563.3h-19.6zM1008.8 527.1h4L1020.6 543.8h-19.6zM966 510h4L977.8 526.7h-19.6zM926.8 494.6h4L938.6 511.3h-19.6zM890.7 481h4L902.5 497.7h-19.6zM857.5 469.1h4L869.3 485.8h-19.6zM826.7 458.3h4L838.5 475h-19.6zM798.1 448.2h4L809.9 464.9h-19.6zM771.6 439.1h4L783.4 455.8h-19.6zM746.8 430.8h4L758.6 447.5h-19.6zM723.6 423h4L735.4 439.7h-19.6zM701.9 415.7h4L713.7 432.4h-19.6zM681.5 409.2h4L693.3 425.9h-19.6zM662.3 403h4L674.1 419.7h-19.6zM644.2 397.1h4L656 413.8h-19.6zM627.1 391.5h4L638.9 408.2h-19.6zM611 387.2h4L622.8 403.9h-19.6zM595.7 383.5h4L607.5 400.2h-19.6zM581.2 379.7h4L593 396.4h-19.6zM567.4 375.6h4L579.2 392.3h-19.6zM554.3 371.5h4L566.1 388.2h-19.6zM541.8 367.3h4L553.6 384h-19.6zM530 363.1h4L541.8 379.8h-19.6zM518.6 358.8h4L530.4 375.5h-19.6zM507.8 354.4h4L519.6 371.1h-19.6zM497.4 349.8h4L509.2 366.5h-19.6zM487.5 345.2h4L499.3 361.9h-19.6zM482.7 343h4L494.5 359.7h-19.6zM478 340.8h4L489.8 357.5h-19.6zM473.4 338.6h4L485.2 355.3h-19.6zM468.8 336.5h4L480.6 353.2h-19.6zM464.5 334.4h4L476.3 351.1h-19.6zM460.1 332.3h4L471.9 349h-19.6zM455.9 330.2h4L467.7 346.9h-19.6zM451.7 328.2h4L463.5 344.9h-19.6zM447.6 326.2h4L459.4 342.9h-19.6zM443.6 324.1h4L455.4 340.8h-19.6zM439.7 322.2h4L451.5 338.9h-19.6zM435.8 320.2h4L447.6 336.9h-19.6zM432.1 318.2h4L443.9 334.9h-19.6zM428.3 316.1h4L440.1 332.8h-19.6zM424.7 314.2h4L436.5 330.9h-19.6zM421.1 312.2h4L432.9 328.9h-19.6zM417.6 310.4h4L429.4 327.1h-19.6zM414.2 308.6h4L426 325.3h-19.6zM410.8 307h4L422.6 323.7h-19.6zM407.4 305.4h4L419.2 322.1h-19.6zM404.2 303.8h4L416 320.5h-19.6zM401 302.3h4L412.8 319h-19.6zM397.8 300.8h4L409.6 317.5h-19.6zM394.7 299.4h4L406.5 316.1h-19.6zM391.7 297.9h4L403.5 314.6h-19.6zM388.7 296.4h4L400.5 313.1h-19.6zM385.7 294.8h4L397.5 311.5h-19.6zM382.8 293.3h4L394.6 310h-19.6zM380 291.7h4L391.8 308.4h-19.6zM377.1 290.2h4L388.9 306.9h-19.6zM374.4 288.3h4L386.2 305h-19.6zM371.7 286.5h4L383.5 303.2h-19.6zM369 284.5h4L380.8 301.2h-19.6zM366.4 282.5h4L378.2 299.2h-19.6zM363.8 280.5h4L375.6 297.2h-19.6zM361.2 278.5h4L373 295.2h-19.6zM358.7 276.6h4L370.5 293.3h-19.6zM356.2 274.7h4L368 291.4h-19.6zM353.8 272.9h4L365.6 289.6h-19.6zM351.4 271.2h4L363.2 287.9h-19.6zM349 269.1h4L360.8 285.8h-19.6zM346.7 267.1h4L358.5 283.8h-19.6zM344.4 264.9h4L356.2 281.6h-19.6zM342.1 262.7h4L353.9 279.4h-19.6zM339.9 260.3h4L351.7 277h-19.6zM337.7 257.9h4L349.5 274.6h-19.6zM335.5 255h4L347.3 271.7h-19.6zM333.4 252.1h4L345.2 268.8h-19.6zM331.3 248.3h4L343.1 265h-19.6zM329.2 244.6h4L341 261.3h-19.6zM327.2 241.1h4L339 257.8h-19.6zM325.1 237.5h4L336.9 254.2h-19.6zM323.2 234.1h4L335 250.8h-19.6zM321.2 230.7h4L333 247.4h-19.6zM319.2 226.8h4L331 243.5h-19.6zM317.3 222.9h4L329.1 239.6h-19.6zM315.4 218.8h4L327.2 235.5h-19.6zM313.6 214.7h4L325.4 231.4h-19.6zM311.7 210.1h4L323.5 226.8h-19.6zM309.9 205.6h4L321.7 222.3h-19.6zM308.1 201.3h4L319.9 218h-19.6zM306.4 197.1h4L318.2 213.8h-19.6zM304.6 193.4h4L316.4 210.1h-19.6zM302.9 189.7h4L314.7 206.4h-19.6zM301.2 186.2h4L313 202.9h-19.6zM299.5 182.8h4L311.3 199.5h-19.6zM297.9 180.4h4L309.7 197.1h-19.6zM296.2 178h4L308 194.7h-19.6zM294.6 176.7h4L306.4 193.4h-19.6zM293 175.3h4L304.8 192h-19.6zM291.4 174.6h4L303.2 191.3h-19.6zM289.8 174h4L301.6 190.7h-19.6zM288.3 173.9h4L300.1 190.6h-19.6zM286.8 173.9h4L298.6 190.6h-19.6zM285.3 174.1h4L297.1 190.8h-19.6zM283.8 174.2h4L295.6 190.9h-19.6zM280.9 174.6h4L292.7 191.3h-19.6zM278 175.2h4L289.8 191.9h-19.6zM275.2 176.2h4L287 192.9h-19.6zM273.8 177.1h4L285.6 193.8h-19.6zM272.5 177.9h4L284.3 194.6h-19.6zM271.1 179.5h4L282.9 196.2h-19.6zM269.8 181.1h4L281.6 197.8h-19.6zM268.5 184h4L280.3 200.7h-19.6zM267.2 186.9h4L279 203.6h-19.6zM265.9 190.3h4L277.7 207h-19.6zM264.7 193.8h4L276.5 210.5h-19.6zM263.4 197.1h4L275.2 213.8h-19.6zM262.2 200.4h4L274 217.1h-19.6zM260.9 204.5h4L272.7 221.2h-19.6zM259.7 208.6h4L271.5 225.3h-19.6zM258.5 212.9h4L270.3 229.6h-19.6zM257.3 217.3h4L269.1 234h-19.6zM256.1 221.3h4L267.9 238h-19.6zM255 225.4h4L266.8 242.1h-19.6zM253.8 229.4h4L265.6 246.1h-19.6zM252.7 233.5h4L264.5 250.2h-19.6zM251.6 237.6h4L263.4 254.3h-19.6zM250.4 241.7h4L262.2 258.4h-19.6zM249.3 246.5h4L261.1 263.2h-19.6zM248.2 251.3h4L260 268h-19.6zM246.1 263.7h4L257.9 280.4h-19.6zM244 275.8h4L255.8 292.5h-19.6zM242.9 280.3h4L254.7 297h-19.6zM241.9 284.7h4L253.7 301.4h-19.6zM240.9 288.1h4L252.7 304.8h-19.6zM239.9 291.5h4L251.7 308.2h-19.6zM238.9 294.9h4L250.7 311.6h-19.6zM237.9 298.3h4L249.7 315h-19.6zM236.9 301.1h4L248.7 317.8h-19.6zM235.9 304h4L247.7 320.7h-19.6zM234.9 306.4h4L246.7 323.1h-19.6zM234 308.7h4L245.8 325.4h-19.6zM233 311h4L244.8 327.7h-19.6zM232.1 313.4h4L243.9 330.1h-19.6zM231.2 316.1h4L243 332.8h-19.6zM230.3 318.9h4L242.1 335.6h-19.6zM229.4 321.7h4L241.2 338.4h-19.6zM228.4 324.4h4L240.2 341.1h-19.6zM227.6 326.6h4L239.4 343.3h-19.6zM226.7 328.8h4L238.5 345.5h-19.6zM225.8 330.8h4L237.6 347.5h-19.6zM224.9 332.9h4L236.7 349.6h-19.6zM224.1 335.1h4L235.9 351.8h-19.6zM223.2 337.3h4L235 354h-19.6zM222.4 339.1h4L234.2 355.8h-19.6zM221.5 341h4L233.3 357.7h-19.6zM220.7 342.6h4L232.5 359.3h-19.6zM219.9 344.1h4L231.7 360.8h-19.6zM219 345.5h4L230.8 362.2h-19.6zM218.2 346.9h4L230 363.6h-19.6zM217.4 348.2h4L229.2 364.9h-19.6zM216.6 349.5h4L228.4 366.2h-19.6zM215.8 350.8h4L227.6 367.5h-19.6zM215.1 352h4L226.9 368.7h-19.6zM214.3 353.3h4L226.1 370h-19.6zM213.5 354.6h4L225.3 371.3h-19.6zM212 357h4L223.8 373.7h-19.6zM210.5 359.1h4L222.3 375.8h-19.6zM209 360.8h4L220.8 377.5h-19.6zM207.6 362.4h4L219.4 379.1h-19.6zM206.2 363.9h4L218 380.6h-19.6zM204.8 365.2h4L216.6 381.9h-19.6zM203.4 366.5h4L215.2 383.2h-19.6zM202 367.8h4L213.8 384.5h-19.6zM200.7 369.1h4L212.5 385.8h-19.6zM199.4 370.4h4L211.2 387.1h-19.6zM198.1 371.6h4L209.9 388.3h-19.6z"/>
<polyline fill="none" stroke="#008080" stroke-width="1.9" points="1837.7,853.9 1696.9,779.2 1576.5,719.6 1472.3,670.8 1381.3,630.6 1301.2,596.9 1230,568.6 1166.5,544.5 1109.3,524.3 1057.7,506.5 1010.8,491.1 968,478 928.8,466 892.7,455.6 859.5,446 828.7,437.3 800.1,429.6 773.6,422.3 748.8,415.8 725.6,409.6 703.9,403.7 683.5,398.4 664.3,393.4 646.2,388.6 629.1,383.9 613,379.6 597.7,375.4 583.2,371.8 569.4,368.5 556.3,364.9 543.8,361.1 532,357.5 520.6,354 509.8,350.4 499.4,346.6 489.5,342.7 480,338.5 470.8,334.7 462.1,331.4 453.7,328.2 445.6,324.8 437.8,321 430.3,316 423.1,310.4 416.2,304.8 409.4,299.7 403,294.9 396.7,290.7 390.7,287.1 384.8,282.7 379.1,277.9 373.7,273.8 368.4,270.5 363.2,266.2 358.2,262.9 353.4,260.2 348.7,256.7 344.1,252.8 339.7,248.4 335.4,242.7 331.2,237.6 327.1,230.1 323.2,223.1 319.3,213.9 315.6,206.2 311.9,198.3 308.4,188.7 304.9,182 301.5,177.3 298.2,170.7 295,166.2 291.8,164.4 288.8,163.9 285.8,166.8 282.9,172.6 280,177.5 277.2,182 274.5,188.1 271.8,195.2 269.2,204.2 266.7,213.8 264.2,221.4 261.7,229.1 259.3,236.3 257,243.4 254.7,250.8 252.4,258 250.2,265 248.1,271.1 246,277.7 243.9,283.2 241.9,287.5 239.9,292.5 237.9,297.1 236,300.9 234.1,303.8 232.3,307.1 230.4,311 228.7,314.7 226.9,317.9 225.2,320.8 223.5,323.3 221.9,325.5 220.2,327.4 218.6,329.2 217.1,330.8 215.5,332.2 214,333.5 212.5,334.6 211,335.9 209.6,337.2 208.2,338.5 206.8,339.7 205.4,341 204,342.1 202.7,343.3 201.4,344.4 200.1,345.5"/>
<path fill="#008080" d="M1828.8 848.9h17.8L1839.7 863.7h-4zM1688 774.2h17.8L1698.9 789h-4zM1567.6 714.6h17.8L1578.5 729.4h-4zM1463.4 665.8h17.8L1474.3 680.6h-4zM1372.4 625.6h17.8L1383.3 640.4h-4zM1292.3 591.9h17.8L1303.2 606.7h-4zM1221.1 563.6h17.8L1232 578.4h-4zM1157.6 539.5h17.8L1168.5 554.3h-4zM1100.4 519.3h17.8L1111.3 534.1h-4zM1048.8 501.5h17.8L1059.7 516.3h-4zM1001.9 486.1h17.8L1012.8 500.9h-4zM959.1 473h17.8L970 487.8h-4zM919.9 461h17.8L930.8 475.8h-4zM883.8 450.6h17.8L894.7 465.4h-4zM850.6 441h17.8L861.5 455.8h-4zM819.8 432.3h17.8L830.7 447.1h-4zM791.2 424.6h17.8L802.1 439.4h-4zM764.7 417.3h17.8L775.6 432.1h-4zM739.9 410.8h17.8L750.8 425.6h-4zM716.7 404.6h17.8L727.6 419.4h-4zM695 398.7h17.8L705.9 413.5h-4zM674.6 393.4h17.8L685.5 408.2h-4zM655.4 388.4h17.8L666.3 403.2h-4zM637.3 383.6h17.8L648.2 398.4h-4zM620.2 378.9h17.8L631.1 393.7h-4zM604.1 374.6h17.8L615 389.4h-4zM588.8 370.4h17.8L599.7 385.2h-4zM574.3 366.8h17.8L585.2 381.6h-4zM560.5 363.5h17.8L571.4 378.3h-4zM547.4 359.9h17.8L558.3 374.7h-4zM534.9 356.1h17.8L545.8 370.9h-4zM523.1 352.5h17.8L534 367.3h-4zM511.7 349h17.8L522.6 363.8h-4zM500.9 345.4h17.8L511.8 360.2h-4zM490.5 341.6h17.8L501.4 356.4h-4zM480.6 337.7h17.8L491.5 352.5h-4zM475.8 335.6h17.8L486.7 350.4h-4zM471.1 333.5h17.8L482 348.3h-4zM466.5 331.6h17.8L477.4 346.4h-4zM461.9 329.7h17.8L472.8 344.5h-4zM457.6 328.1h17.8L468.5 342.9h-4zM453.2 326.4h17.8L464.1 341.2h-4zM449 324.8h17.8L459.9 339.6h-4zM444.8 323.2h17.8L455.7 338h-4zM440.7 321.5h17.8L451.6 336.3h-4zM436.7 319.8h17.8L447.6 334.6h-4zM432.8 317.9h17.8L443.7 332.7h-4zM428.9 316h17.8L439.8 330.8h-4zM425.2 313.5h17.8L436.1 328.3h-4zM421.4 311h17.8L432.3 325.8h-4zM417.8 308.2h17.8L428.7 323h-4zM414.2 305.4h17.8L425.1 320.2h-4zM410.7 302.6h17.8L421.6 317.4h-4zM407.3 299.8h17.8L418.2 314.6h-4zM403.9 297.2h17.8L414.8 312h-4zM400.5 294.7h17.8L411.4 309.5h-4zM397.3 292.3h17.8L408.2 307.1h-4zM394.1 289.9h17.8L405 304.7h-4zM390.9 287.8h17.8L401.8 302.6h-4zM387.8 285.7h17.8L398.7 300.5h-4zM384.8 283.9h17.8L395.7 298.7h-4zM381.8 282.1h17.8L392.7 296.9h-4zM378.8 279.9h17.8L389.7 294.7h-4zM375.9 277.7h17.8L386.8 292.5h-4zM373.1 275.3h17.8L384 290.1h-4zM370.2 272.9h17.8L381.1 287.7h-4zM367.5 270.9h17.8L378.4 285.7h-4zM364.8 268.8h17.8L375.7 283.6h-4zM362.1 267.1h17.8L373 281.9h-4zM359.5 265.5h17.8L370.4 280.3h-4zM356.9 263.3h17.8L367.8 278.1h-4zM354.3 261.2h17.8L365.2 276h-4zM351.8 259.5h17.8L362.7 274.3h-4zM349.3 257.9h17.8L360.2 272.7h-4zM346.9 256.6h17.8L357.8 271.4h-4zM344.5 255.2h17.8L355.4 270h-4zM342.1 253.4h17.8L353 268.2h-4zM339.8 251.7h17.8L350.7 266.5h-4zM337.5 249.7h17.8L348.4 264.5h-4zM335.2 247.8h17.8L346.1 262.6h-4zM333 245.6h17.8L343.9 260.4h-4zM330.8 243.4h17.8L341.7 258.2h-4zM328.6 240.6h17.8L339.5 255.4h-4zM326.5 237.7h17.8L337.4 252.5h-4zM324.4 235.1h17.8L335.3 249.9h-4zM322.3 232.6h17.8L333.2 247.4h-4zM320.3 228.8h17.8L331.2 243.6h-4zM318.2 225.1h17.8L329.1 239.9h-4zM316.3 221.6h17.8L327.2 236.4h-4zM314.3 218.1h17.8L325.2 232.9h-4zM312.3 213.5h17.8L323.2 228.3h-4zM310.4 208.9h17.8L321.3 223.7h-4zM308.5 205.1h17.8L319.4 219.9h-4zM306.7 201.2h17.8L317.6 216h-4zM304.8 197.3h17.8L315.7 212.1h-4zM303 193.3h17.8L313.9 208.1h-4zM301.2 188.5h17.8L312.1 203.3h-4zM299.5 183.7h17.8L310.4 198.5h-4zM297.7 180.3h17.8L308.6 195.1h-4zM296 177h17.8L306.9 191.8h-4zM294.3 174.7h17.8L305.2 189.5h-4zM292.6 172.3h17.8L303.5 187.1h-4zM291 169h17.8L301.9 183.8h-4zM289.3 165.7h17.8L300.2 180.5h-4zM287.7 163.5h17.8L298.6 178.3h-4zM286.1 161.2h17.8L297 176h-4zM284.5 160.3h17.8L295.4 175.1h-4zM282.9 159.4h17.8L293.8 174.2h-4zM281.4 159.1h17.8L292.3 173.9h-4zM279.9 158.9h17.8L290.8 173.7h-4zM278.4 160.3h17.8L289.3 175.1h-4zM276.9 161.8h17.8L287.8 176.6h-4zM275.4 164.7h17.8L286.3 179.5h-4zM274 167.6h17.8L284.9 182.4h-4zM272.5 170.1h17.8L283.4 184.9h-4zM271.1 172.5h17.8L282 187.3h-4zM269.7 174.8h17.8L280.6 189.6h-4zM268.3 177h17.8L279.2 191.8h-4zM266.9 180h17.8L277.8 194.8h-4zM265.6 183.1h17.8L276.5 197.9h-4zM264.2 186.6h17.8L275.1 201.4h-4zM262.9 190.2h17.8L273.8 205h-4zM261.6 194.7h17.8L272.5 209.5h-4zM260.3 199.2h17.8L271.2 214h-4zM259 204h17.8L269.9 218.8h-4zM257.8 208.8h17.8L268.7 223.6h-4zM256.5 212.6h17.8L267.4 227.4h-4zM255.3 216.4h17.8L266.2 231.2h-4zM254 220.2h17.8L264.9 235h-4zM252.8 224.1h17.8L263.7 238.9h-4zM251.6 227.7h17.8L262.5 242.5h-4zM250.4 231.3h17.8L261.3 246.1h-4zM249.2 234.9h17.8L260.1 249.7h-4zM248.1 238.4h17.8L259 253.2h-4zM246.9 242.1h17.8L257.8 256.9h-4zM245.8 245.8h17.8L256.7 260.6h-4zM244.7 249.4h17.8L255.6 264.2h-4zM243.5 253h17.8L254.4 267.8h-4zM242.4 256.5h17.8L253.3 271.3h-4zM241.3 260h17.8L252.2 274.8h-4zM240.3 263h17.8L251.2 277.8h-4zM239.2 266.1h17.8L250.1 280.9h-4zM238.1 269.4h17.8L249 284.2h-4zM237.1 272.7h17.8L248 287.5h-4zM236 275.4h17.8L246.9 290.2h-4zM235 278.2h17.8L245.9 293h-4zM234 280.4h17.8L244.9 295.2h-4zM233 282.5h17.8L243.9 297.3h-4zM232 285h17.8L242.9 299.8h-4zM231 287.5h17.8L241.9 302.3h-4zM230 289.8h17.8L240.9 304.6h-4zM229 292.1h17.8L239.9 306.9h-4zM228 294h17.8L238.9 308.8h-4zM227.1 295.9h17.8L238 310.7h-4zM226.1 297.4h17.8L237 312.2h-4zM225.2 298.8h17.8L236.1 313.6h-4zM224.3 300.5h17.8L235.2 315.3h-4zM223.4 302.1h17.8L234.3 316.9h-4zM222.5 304.1h17.8L233.4 318.9h-4zM221.5 306h17.8L232.4 320.8h-4zM220.7 307.9h17.8L231.6 322.7h-4zM219.8 309.7h17.8L230.7 324.5h-4zM218.9 311.3h17.8L229.8 326.1h-4zM218 312.9h17.8L228.9 327.7h-4zM217.2 314.3h17.8L228.1 329.1h-4zM216.3 315.8h17.8L227.2 330.6h-4zM215.5 317h17.8L226.4 331.8h-4zM214.6 318.3h17.8L225.5 333.1h-4zM213 320.5h17.8L223.9 335.3h-4zM211.3 322.4h17.8L222.2 337.2h-4zM209.7 324.2h17.8L220.6 339h-4zM208.2 325.8h17.8L219.1 340.6h-4zM206.6 327.2h17.8L217.5 342h-4zM205.1 328.5h17.8L216 343.3h-4zM203.6 329.6h17.8L214.5 344.4h-4zM202.1 330.9h17.8L213 345.7h-4zM200.7 332.2h17.8L211.6 347h-4zM199.3 333.5h17.8L210.2 348.3h-4zM197.9 334.7h17.8L208.8 349.5h-4zM196.5 336h17.8L207.4 350.8h-4zM195.1 337.1h17.8L206 351.9h-4zM193.8 338.3h17.8L204.7 353.1h-4zM192.5 339.4h17.8L203.4 354.2h-4zM191.2 340.5h17.8L202.1 355.3h-4z"/>
<polyline fill="none" stroke="#000000" stroke-width="2.5" stroke-dasharray="6 10.4" stroke-dashoffset="-5" points="1837.7,975 1696.9,1021.8 1576.5,1056 1472.3,1081.6 1381.3,1101.1 1301.2,1116.3 1230,1128.2 1166.5,1137.8 1109.3,1145.5 1057.7,1151.7 1010.8,1156.9 968,1161.2 928.8,1164.9 892.7,1167.9 859.5,1170.5 828.7,1172.8 800.1,1174.7 773.6,1176.4 748.8,1177.8 725.6,1179.1 703.9,1180.2 683.5,1181.2 664.3,1182 646.2,1182.8 629.1,1183.5 613,1184.1 597.7,1184.6 583.2,1185.1 569.4,1185.6 556.3,1186 543.8,1186.4 532,1186.7 520.6,1187 509.8,1187.3 499.4,1187.5 489.5,1187.8 480,1188 470.8,1188.2 462.1,1188.3 453.7,1188.5 445.6,1188.7 437.8,1188.8 430.3,1188.9 423.1,1189.1 416.2,1189.2 409.4,1189.3 403,1189.4 396.7,1189.5 390.7,1189.6 384.8,1189.6 379.1,1189.7 373.7,1189.8 368.4,1189.9 363.2,1189.9 358.2,1190 353.4,1190 348.7,1190.1 344.1,1190.1 339.7,1190.2 335.4,1190.2 331.2,1190.3 327.1,1190.3 323.2,1190.3 319.3,1189.2 315.6,1185.6 311.9,1180.2 308.4,1173.9 304.9,1168.9 301.5,1158.4 298.2,1143 295,1129.3 291.8,1118.3 288.8,1107.6 285.8,1094.4 282.9,1080.6 280,1061.4 277.2,1043.9 274.5,1028.5 271.8,1013.8 269.2,1001.2 266.7,988 264.2,969.5 261.7,954.8 259.3,945.4 257,936.8 254.7,929.3 252.4,921.6 250.2,913 248.1,906.1 246,900.3 243.9,896.3 241.9,892.6 239.9,888.3 237.9,885.2 236,883.2 234.1,881.4 232.3,879.8 230.4,878.3 228.7,877.2 226.9,876.8 225.2,876.7 223.5,876.6 221.9,876.6 220.2,876.6 218.6,876.7 217.1,876.8 215.5,876.9 214,877.1 212.5,877.4 211,877.7 209.6,878.3 208.2,878.9 206.8,879.6 205.4,880.4 204,881.3 202.7,882.3 201.4,883.3 200.1,884.1"/>
<path fill="#000000" d="M1831 968.5h13.5v13h-13.5zM1690.1 1015.3h13.5v13h-13.5zM1569.7 1049.5h13.5v13h-13.5zM1465.5 1075.1h13.5v13h-13.5zM1374.6 1094.6h13.5v13h-13.5zM1294.4 1109.8h13.5v13h-13.5zM1223.3 1121.7h13.5v13h-13.5zM1159.7 1131.3h13.5v13h-13.5zM1102.6 1139h13.5v13h-13.5zM1050.9 1145.2h13.5v13h-13.5zM1004 1150.4h13.5v13h-13.5zM961.2 1154.7h13.5v13h-13.5zM922 1158.4h13.5v13h-13.5zM886 1161.4h13.5v13h-13.5zM852.7 1164h13.5v13h-13.5zM821.9 1166.3h13.5v13h-13.5zM793.4 1168.2h13.5v13h-13.5zM766.8 1169.9h13.5v13h-13.5zM742 1171.3h13.5v13h-13.5zM718.9 1172.6h13.5v13h-13.5zM697.1 1173.7h13.5v13h-13.5zM676.7 1174.7h13.5v13h-13.5zM657.6 1175.5h13.5v13h-13.5zM639.5 1176.3h13.5v13h-13.5zM622.4 1177h13.5v13h-13.5zM606.2 1177.6h13.5v13h-13.5zM591 1178.1h13.5v13h-13.5zM576.4 1178.6h13.5v13h-13.5zM562.7 1179.1h13.5v13h-13.5zM549.6 1179.5h13.5v13h-13.5zM537.1 1179.9h13.5v13h-13.5zM525.2 1180.2h13.5v13h-13.5zM513.9 1180.5h13.5v13h-13.5zM503 1180.8h13.5v13h-13.5zM497.8 1180.9h13.5v13h-13.5zM492.6 1181h13.5v13h-13.5zM487.7 1181.1h13.5v13h-13.5zM482.7 1181.3h13.5v13h-13.5zM478 1181.4h13.5v13h-13.5zM473.2 1181.5h13.5v13h-13.5zM468.7 1181.6h13.5v13h-13.5zM464.1 1181.7h13.5v13h-13.5zM459.7 1181.8h13.5v13h-13.5zM455.3 1181.8h13.5v13h-13.5zM451.1 1181.9h13.5v13h-13.5zM446.9 1182h13.5v13h-13.5zM442.9 1182.1h13.5v13h-13.5zM438.8 1182.2h13.5v13h-13.5zM435 1182.2h13.5v13h-13.5zM431.1 1182.3h13.5v13h-13.5zM427.3 1182.4h13.5v13h-13.5zM423.6 1182.4h13.5v13h-13.5zM420 1182.5h13.5v13h-13.5zM416.4 1182.6h13.5v13h-13.5zM412.9 1182.6h13.5v13h-13.5zM409.4 1182.7h13.5v13h-13.5zM406.1 1182.7h13.5v13h-13.5zM402.7 1182.8h13.5v13h-13.5zM399.5 1182.8h13.5v13h-13.5zM396.2 1182.9h13.5v13h-13.5zM393.1 1182.9h13.5v13h-13.5zM390 1183h13.5v13h-13.5zM386.9 1183h13.5v13h-13.5zM383.9 1183.1h13.5v13h-13.5zM381 1183.1h13.5v13h-13.5zM378.1 1183.1h13.5v13h-13.5zM375.2 1183.2h13.5v13h-13.5zM372.4 1183.2h13.5v13h-13.5zM369.7 1183.3h13.5v13h-13.5zM366.9 1183.3h13.5v13h-13.5zM364.3 1183.3h13.5v13h-13.5zM361.6 1183.4h13.5v13h-13.5zM359 1183.4h13.5v13h-13.5zM356.5 1183.4h13.5v13h-13.5zM354 1183.4h13.5v13h-13.5zM351.5 1183.5h13.5v13h-13.5zM349.1 1183.5h13.5v13h-13.5zM346.6 1183.5h13.5v13h-13.5zM344.3 1183.6h13.5v13h-13.5zM341.9 1183.6h13.5v13h-13.5zM339.7 1183.6h13.5v13h-13.5zM337.4 1183.6h13.5v13h-13.5zM335.2 1183.7h13.5v13h-13.5zM332.9 1183.7h13.5v13h-13.5zM330.8 1183.7h13.5v13h-13.5zM328.6 1183.7h13.5v13h-13.5zM326.5 1183.7h13.5v13h-13.5zM324.5 1183.8h13.5v13h-13.5zM322.4 1183.8h13.5v13h-13.5zM320.4 1183.8h13.5v13h-13.5zM318.4 1183.8h13.5v13h-13.5zM316.4 1183.8h13.5v13h-13.5zM314.5 1183.3h13.5v13h-13.5zM312.6 1182.7h13.5v13h-13.5zM310.7 1180.9h13.5v13h-13.5zM308.8 1179.1h13.5v13h-13.5zM307 1176.4h13.5v13h-13.5zM305.2 1173.7h13.5v13h-13.5zM303.4 1170.6h13.5v13h-13.5zM301.6 1167.4h13.5v13h-13.5zM299.9 1164.9h13.5v13h-13.5zM298.1 1162.4h13.5v13h-13.5zM294.8 1151.9h13.5v13h-13.5zM291.5 1136.5h13.5v13h-13.5zM288.2 1122.8h13.5v13h-13.5zM285.1 1111.8h13.5v13h-13.5zM282 1101.1h13.5v13h-13.5zM279 1087.9h13.5v13h-13.5zM276.1 1074.1h13.5v13h-13.5zM273.3 1054.9h13.5v13h-13.5zM270.5 1037.4h13.5v13h-13.5zM267.7 1022h13.5v13h-13.5zM265.1 1007.3h13.5v13h-13.5zM262.5 994.7h13.5v13h-13.5zM259.9 981.5h13.5v13h-13.5zM257.4 963h13.5v13h-13.5zM255 948.3h13.5v13h-13.5zM253.8 943.6h13.5v13h-13.5zM252.6 938.9h13.5v13h-13.5zM251.4 934.6h13.5v13h-13.5zM250.2 930.3h13.5v13h-13.5zM249.1 926.6h13.5v13h-13.5zM247.9 922.8h13.5v13h-13.5zM246.8 919h13.5v13h-13.5zM245.7 915.1h13.5v13h-13.5zM244.6 910.8h13.5v13h-13.5zM243.5 906.5h13.5v13h-13.5zM242.4 903h13.5v13h-13.5zM241.3 899.6h13.5v13h-13.5zM240.3 896.7h13.5v13h-13.5zM239.2 893.8h13.5v13h-13.5zM238.2 891.8h13.5v13h-13.5zM237.1 889.8h13.5v13h-13.5zM236.1 888h13.5v13h-13.5zM235.1 886.1h13.5v13h-13.5zM234.1 884h13.5v13h-13.5zM233.1 881.8h13.5v13h-13.5zM232.1 880.2h13.5v13h-13.5zM231.2 878.7h13.5v13h-13.5zM229.2 876.7h13.5v13h-13.5zM227.4 874.9h13.5v13h-13.5zM225.5 873.3h13.5v13h-13.5zM223.7 871.8h13.5v13h-13.5zM221.9 870.7h13.5v13h-13.5zM220.2 870.3h13.5v13h-13.5zM218.4 870.2h13.5v13h-13.5zM216.8 870.1h13.5v13h-13.5zM215.1 870.1h13.5v13h-13.5zM213.5 870.1h13.5v13h-13.5zM211.9 870.2h13.5v13h-13.5zM210.3 870.3h13.5v13h-13.5zM208.8 870.4h13.5v13h-13.5zM207.2 870.6h13.5v13h-13.5zM205.7 870.9h13.5v13h-13.5zM204.3 871.2h13.5v13h-13.5zM202.8 871.8h13.5v13h-13.5zM201.4 872.4h13.5v13h-13.5zM200 873.1h13.5v13h-13.5zM198.6 873.9h13.5v13h-13.5zM197.3 874.8h13.5v13h-13.5zM195.9 875.8h13.5v13h-13.5zM194.6 876.8h13.5v13h-13.5zM193.3 877.6h13.5v13h-13.5z"/>
<polyline fill="none" stroke="#ff0000" stroke-width="2.5" stroke-dasharray="6 10.4" stroke-dashoffset="-5" points="1837.7,947.7 1696.9,1000.5 1576.5,1039 1472.3,1067.8 1381.3,1089.8 1301.2,1106.9 1230,1120.3 1166.5,1131 1109.3,1139.7 1057.7,1146.8 1010.8,1152.6 968,1157.5 928.8,1161.5 892.7,1165 859.5,1167.9 828.7,1170.4 800.1,1172.6 773.6,1174.5 748.8,1176.1 725.6,1177.5 703.9,1178.8 683.5,1179.9 664.3,1180.9 646.2,1181.7 629.1,1182.5 613,1183.2 597.7,1183.8 583.2,1184.4 569.4,1184.9 556.3,1185.3 543.8,1185.7 532,1186.1 520.6,1186.5 509.8,1186.8 499.4,1187.1 489.5,1187.3 480,1187.6 470.8,1187.8 462.1,1188 453.7,1188.2 445.6,1188.3 437.8,1188.5 430.3,1188.7 423.1,1188.8 416.2,1188.9 409.4,1189 403,1189.2 396.7,1189.3 390.7,1189.4 384.8,1189.4 379.1,1189.5 373.7,1189.6 368.4,1189.7 363.2,1189.8 358.2,1189.8 353.4,1189.9 348.7,1189.9 344.1,1190 339.7,1190 335.4,1190.1 331.2,1190.1 327.1,1190 323.2,1187.2 319.3,1182.7 315.6,1176.1 311.9,1167.5 308.4,1159 304.9,1146.8 301.5,1133.7 298.2,1125.5 295,1113.9 291.8,1100 288.8,1083.9 285.8,1060.2 282.9,1039.9 280,1018.5 277.2,1001.1 274.5,984.3 271.8,964.5 269.2,949.5 266.7,935 264.2,924.5 261.7,912.8 259.3,904.5 257,896.1 254.7,886.3 252.4,879.5 250.2,873.4 248.1,868.9 246,866.1 243.9,864.2 241.9,862.5 239.9,860.9 237.9,859.4 236,858 234.1,856.6 232.3,855.6 230.4,854.9 228.7,854.4 226.9,854.1 225.2,854.1 223.5,854.6 221.9,855.5 220.2,856.4 218.6,857.4 217.1,858.7 215.5,860.1 214,861.5 212.5,862.9 211,864.3 209.6,865.7 208.2,867.1 206.8,868.3 205.4,869.5 204,870.6 202.7,871.6 201.4,872.6 200.1,873.5"/>
<path fill="#ff0000" d="M1830 947.7a7.7 7.7 0 1 0 15.4 0a7.7 7.7 0 1 0 -15.4 0zM1689.2 1000.5a7.7 7.7 0 1 0 15.4 0a7.7 7.7 0 1 0 -15.4 0zM1568.8 1039a7.7 7.7 0 1 0 15.4 0a7.7 7.7 0 1 0 -15.4 0zM1464.6 1067.8a7.7 7.7 0 1 0 15.4 0a7.7 7.7 0 1 0 -15.4 0zM1373.6 1089.8a7.7 7.7 0 1 0 15.4 0a7.7 7.7 0 1 0 -15.4 0zM1293.5 1106.9a7.7 7.7 0 1 0 15.4 0a7.7 7.7 0 1 0 -15.4 0zM1222.3 1120.3a7.7 7.7 0 1 0 15.4 0a7.7 7.7 0 1 0 -15.4 0zM1158.8 1131a7.7 7.7 0 1 0 15.4 0a7.7 7.7 0 1 0 -15.4 0zM1101.6 1139.7a7.7 7.7 0 1 0 15.4 0a7.7 7.7 0 1 0 -15.4 0zM1050 1146.8a7.7 7.7 0 1 0 15.4 0a7.7 7.7 0 1 0 -15.4 0zM1003.1 1152.6a7.7 7.7 0 1 0 15.4 0a7.7 7.7 0 1 0 -15.4 0zM960.3 1157.5a7.7 7.7 0 1 0 15.4 0a7.7 7.7 0 1 0 -15.4 0zM921.1 1161.5a7.7 7.7 0 1 0 15.4 0a7.7 7.7 0 1 0 -15.4 0zM885 1165a7.7 7.7 0 1 0 15.4 0a7.7 7.7 0 1 0 -15.4 0zM851.8 1167.9a7.7 7.7 0 1 0 15.4 0a7.7 7.7 0 1 0 -15.4 0zM821 1170.4a7.7 7.7 0 1 0 15.4 0a7.7 7.7 0 1 0 -15.4 0zM792.4 1172.6a7.7 7.7 0 1 0 15.4 0a7.7 7.7 0 1 0 -15.4 0zM765.9 1174.5a7.7 7.7 0 1 0 15.4 0a7.7 7.7 0 1 0 -15.4 0zM741.1 1176.1a7.7 7.7 0 1 0 15.4 0a7.7 7.7 0 1 0 -15.4 0zM717.9 1177.5a7.7 7.7 0 1 0 15.4 0a7.7 7.7 0 1 0 -15.4 0zM696.2 1178.8a7.7 7.7 0 1 0 15.4 0a7.7 7.7 0 1 0 -15.4 0zM675.8 1179.9a7.7 7.7 0 1 0 15.4 0a7.7 7.7 0 1 0 -15.4 0zM656.6 1180.9a7.7 7.7 0 1 0 15.4 0a7.7 7.7 0 1 0 -15.4 0zM638.5 1181.7a7.7 7.7 0 1 0 15.4 0a7.7 7.7 0 1 0 -15.4 0zM621.4 1182.5a7.7 7.7 0 1 0 15.4 0a7.7 7.7 0 1 0 -15.4 0zM605.3 1183.2a7.7 7.7 0 1 0 15.4 0a7.7 7.7 0 1 0 -15.4 0zM590 1183.8a7.7 7.7 0 1 0 15.4 0a7.7 7.7 0 1 0 -15.4 0zM575.5 1184.4a7.7 7.7 0 1 0 15.4 0a7.7 7.7 0 1 0 -15.4 0zM561.7 1184.9a7.7 7.7 0 1 0 15.4 0a7.7 7.7 0 1 0 -15.4 0zM548.6 1185.3a7.7 7.7 0 1 0 15.4 0a7.7 7.7 0 1 0 -15.4 0zM536.1 1185.7a7.7 7.7 0 1 0 15.4 0a7.7 7.7 0 1 0 -15.4 0zM524.3 1186.1a7.7 7.7 0 1 0 15.4 0a7.7 7.7 0 1 0 -15.4 0zM512.9 1186.5a7.7 7.7 0 1 0 15.4 0a7.7 7.7 0 1 0 -15.4 0zM502.1 1186.8a7.7 7.7 0 1 0 15.4 0a7.7 7.7 0 1 0 -15.4 0zM496.9 1186.9a7.7 7.7 0 1 0 15.4 0a7.7 7.7 0 1 0 -15.4 0zM491.7 1187.1a7.7 7.7 0 1 0 15.4 0a7.7 7.7 0 1 0 -15.4 0zM486.7 1187.2a7.7 7.7 0 1 0 15.4 0a7.7 7.7 0 1 0 -15.4 0zM481.8 1187.3a7.7 7.7 0 1 0 15.4 0a7.7 7.7 0 1 0 -15.4 0zM477 1187.4a7.7 7.7 0 1 0 15.4 0a7.7 7.7 0 1 0 -15.4 0zM472.3 1187.6a7.7 7.7 0 1 0 15.4 0a7.7 7.7 0 1 0 -15.4 0zM467.7 1187.7a7.7 7.7 0 1 0 15.4 0a7.7 7.7 0 1 0 -15.4 0zM463.1 1187.8a7.7 7.7 0 1 0 15.4 0a7.7 7.7 0 1 0 -15.4 0zM458.8 1187.9a7.7 7.7 0 1 0 15.4 0a7.7 7.7 0 1 0 -15.4 0zM454.4 1188a7.7 7.7 0 1 0 15.4 0a7.7 7.7 0 1 0 -15.4 0zM450.2 1188.1a7.7 7.7 0 1 0 15.4 0a7.7 7.7 0 1 0 -15.4 0zM446 1188.2a7.7 7.7 0 1 0 15.4 0a7.7 7.7 0 1 0 -15.4 0zM441.9 1188.3a7.7 7.7 0 1 0 15.4 0a7.7 7.7 0 1 0 -15.4 0zM437.9 1188.3a7.7 7.7 0 1 0 15.4 0a7.7 7.7 0 1 0 -15.4 0zM434 1188.4a7.7 7.7 0 1 0 15.4 0a7.7 7.7 0 1 0 -15.4 0zM430.1 1188.5a7.7 7.7 0 1 0 15.4 0a7.7 7.7 0 1 0 -15.4 0zM426.4 1188.6a7.7 7.7 0 1 0 15.4 0a7.7 7.7 0 1 0 -15.4 0zM422.6 1188.7a7.7 7.7 0 1 0 15.4 0a7.7 7.7 0 1 0 -15.4 0zM419 1188.7a7.7 7.7 0 1 0 15.4 0a7.7 7.7 0 1 0 -15.4 0zM415.4 1188.8a7.7 7.7 0 1 0 15.4 0a7.7 7.7 0 1 0 -15.4 0zM411.9 1188.9a7.7 7.7 0 1 0 15.4 0a7.7 7.7 0 1 0 -15.4 0zM408.5 1188.9a7.7 7.7 0 1 0 15.4 0a7.7 7.7 0 1 0 -15.4 0zM405.1 1189a7.7 7.7 0 1 0 15.4 0a7.7 7.7 0 1 0 -15.4 0zM401.7 1189a7.7 7.7 0 1 0 15.4 0a7.7 7.7 0 1 0 -15.4 0zM398.5 1189.1a7.7 7.7 0 1 0 15.4 0a7.7 7.7 0 1 0 -15.4 0zM395.3 1189.2a7.7 7.7 0 1 0 15.4 0a7.7 7.7 0 1 0 -15.4 0zM392.1 1189.2a7.7 7.7 0 1 0 15.4 0a7.7 7.7 0 1 0 -15.4 0zM389 1189.3a7.7 7.7 0 1 0 15.4 0a7.7 7.7 0 1 0 -15.4 0zM386 1189.3a7.7 7.7 0 1 0 15.4 0a7.7 7.7 0 1 0 -15.4 0zM383 1189.4a7.7 7.7 0 1 0 15.4 0a7.7 7.7 0 1 0 -15.4 0zM380 1189.4a7.7 7.7 0 1 0 15.4 0a7.7 7.7 0 1 0 -15.4 0zM377.1 1189.4a7.7 7.7 0 1 0 15.4 0a7.7 7.7 0 1 0 -15.4 0zM374.3 1189.5a7.7 7.7 0 1 0 15.4 0a7.7 7.7 0 1 0 -15.4 0zM371.4 1189.5a7.7 7.7 0 1 0 15.4 0a7.7 7.7 0 1 0 -15.4 0zM368.7 1189.6a7.7 7.7 0 1 0 15.4 0a7.7 7.7 0 1 0 -15.4 0zM366 1189.6a7.7 7.7 0 1 0 15.4 0a7.7 7.7 0 1 0 -15.4 0zM363.3 1189.6a7.7 7.7 0 1 0 15.4 0a7.7 7.7 0 1 0 -15.4 0zM360.7 1189.7a7.7 7.7 0 1 0 15.4 0a7.7 7.7 0 1 0 -15.4 0zM358.1 1189.7a7.7 7.7 0 1 0 15.4 0a7.7 7.7 0 1 0 -15.4 0zM355.5 1189.8a7.7 7.7 0 1 0 15.4 0a7.7 7.7 0 1 0 -15.4 0zM353 1189.8a7.7 7.7 0 1 0 15.4 0a7.7 7.7 0 1 0 -15.4 0zM350.5 1189.8a7.7 7.7 0 1 0 15.4 0a7.7 7.7 0 1 0 -15.4 0zM348.1 1189.9a7.7 7.7 0 1 0 15.4 0a7.7 7.7 0 1 0 -15.4 0zM345.7 1189.9a7.7 7.7 0 1 0 15.4 0a7.7 7.7 0 1 0 -15.4 0zM343.3 1189.9a7.7 7.7 0 1 0 15.4 0a7.7 7.7 0 1 0 -15.4 0zM341 1189.9a7.7 7.7 0 1 0 15.4 0a7.7 7.7 0 1 0 -15.4 0zM338.7 1190a7.7 7.7 0 1 0 15.4 0a7.7 7.7 0 1 0 -15.4 0zM336.4 1190a7.7 7.7 0 1 0 15.4 0a7.7 7.7 0 1 0 -15.4 0zM334.2 1190a7.7 7.7 0 1 0 15.4 0a7.7 7.7 0 1 0 -15.4 0zM332 1190a7.7 7.7 0 1 0 15.4 0a7.7 7.7 0 1 0 -15.4 0zM329.8 1190.1a7.7 7.7 0 1 0 15.4 0a7.7 7.7 0 1 0 -15.4 0zM327.7 1190.1a7.7 7.7 0 1 0 15.4 0a7.7 7.7 0 1 0 -15.4 0zM325.6 1190.1a7.7 7.7 0 1 0 15.4 0a7.7 7.7 0 1 0 -15.4 0zM323.5 1190.1a7.7 7.7 0 1 0 15.4 0a7.7 7.7 0 1 0 -15.4 0zM321.5 1190.1a7.7 7.7 0 1 0 15.4 0a7.7 7.7 0 1 0 -15.4 0zM319.4 1190a7.7 7.7 0 1 0 15.4 0a7.7 7.7 0 1 0 -15.4 0zM317.5 1188.6a7.7 7.7 0 1 0 15.4 0a7.7 7.7 0 1 0 -15.4 0zM315.5 1187.2a7.7 7.7 0 1 0 15.4 0a7.7 7.7 0 1 0 -15.4 0zM313.5 1185a7.7 7.7 0 1 0 15.4 0a7.7 7.7 0 1 0 -15.4 0zM311.6 1182.7a7.7 7.7 0 1 0 15.4 0a7.7 7.7 0 1 0 -15.4 0zM309.7 1179.4a7.7 7.7 0 1 0 15.4 0a7.7 7.7 0 1 0 -15.4 0zM307.9 1176.1a7.7 7.7 0 1 0 15.4 0a7.7 7.7 0 1 0 -15.4 0zM306 1171.8a7.7 7.7 0 1 0 15.4 0a7.7 7.7 0 1 0 -15.4 0zM304.2 1167.5a7.7 7.7 0 1 0 15.4 0a7.7 7.7 0 1 0 -15.4 0zM302.4 1163.2a7.7 7.7 0 1 0 15.4 0a7.7 7.7 0 1 0 -15.4 0zM300.7 1159a7.7 7.7 0 1 0 15.4 0a7.7 7.7 0 1 0 -15.4 0zM297.2 1146.8a7.7 7.7 0 1 0 15.4 0a7.7 7.7 0 1 0 -15.4 0zM293.8 1133.7a7.7 7.7 0 1 0 15.4 0a7.7 7.7 0 1 0 -15.4 0zM292.2 1129.6a7.7 7.7 0 1 0 15.4 0a7.7 7.7 0 1 0 -15.4 0zM290.5 1125.5a7.7 7.7 0 1 0 15.4 0a7.7 7.7 0 1 0 -15.4 0zM287.3 1113.9a7.7 7.7 0 1 0 15.4 0a7.7 7.7 0 1 0 -15.4 0zM284.1 1100a7.7 7.7 0 1 0 15.4 0a7.7 7.7 0 1 0 -15.4 0zM281.1 1083.9a7.7 7.7 0 1 0 15.4 0a7.7 7.7 0 1 0 -15.4 0zM278.1 1060.2a7.7 7.7 0 1 0 15.4 0a7.7 7.7 0 1 0 -15.4 0zM275.2 1039.9a7.7 7.7 0 1 0 15.4 0a7.7 7.7 0 1 0 -15.4 0zM272.3 1018.5a7.7 7.7 0 1 0 15.4 0a7.7 7.7 0 1 0 -15.4 0zM269.5 1001.1a7.7 7.7 0 1 0 15.4 0a7.7 7.7 0 1 0 -15.4 0zM266.8 984.3a7.7 7.7 0 1 0 15.4 0a7.7 7.7 0 1 0 -15.4 0zM264.1 964.5a7.7 7.7 0 1 0 15.4 0a7.7 7.7 0 1 0 -15.4 0zM261.5 949.5a7.7 7.7 0 1 0 15.4 0a7.7 7.7 0 1 0 -15.4 0zM259 935a7.7 7.7 0 1 0 15.4 0a7.7 7.7 0 1 0 -15.4 0zM256.5 924.5a7.7 7.7 0 1 0 15.4 0a7.7 7.7 0 1 0 -15.4 0zM254 912.8a7.7 7.7 0 1 0 15.4 0a7.7 7.7 0 1 0 -15.4 0zM252.8 908.6a7.7 7.7 0 1 0 15.4 0a7.7 7.7 0 1 0 -15.4 0zM251.6 904.5a7.7 7.7 0 1 0 15.4 0a7.7 7.7 0 1 0 -15.4 0zM250.4 900.3a7.7 7.7 0 1 0 15.4 0a7.7 7.7 0 1 0 -15.4 0zM249.3 896.1a7.7 7.7 0 1 0 15.4 0a7.7 7.7 0 1 0 -15.4 0zM248.1 891.2a7.7 7.7 0 1 0 15.4 0a7.7 7.7 0 1 0 -15.4 0zM247 886.3a7.7 7.7 0 1 0 15.4 0a7.7 7.7 0 1 0 -15.4 0zM245.9 882.9a7.7 7.7 0 1 0 15.4 0a7.7 7.7 0 1 0 -15.4 0zM244.7 879.5a7.7 7.7 0 1 0 15.4 0a7.7 7.7 0 1 0 -15.4 0zM243.6 876.5a7.7 7.7 0 1 0 15.4 0a7.7 7.7 0 1 0 -15.4 0zM242.5 873.4a7.7 7.7 0 1 0 15.4 0a7.7 7.7 0 1 0 -15.4 0zM241.5 871.2a7.7 7.7 0 1 0 15.4 0a7.7 7.7 0 1 0 -15.4 0zM240.4 868.9a7.7 7.7 0 1 0 15.4 0a7.7 7.7 0 1 0 -15.4 0zM239.3 867.5a7.7 7.7 0 1 0 15.4 0a7.7 7.7 0 1 0 -15.4 0zM238.3 866.1a7.7 7.7 0 1 0 15.4 0a7.7 7.7 0 1 0 -15.4 0zM236.2 864.2a7.7 7.7 0 1 0 15.4 0a7.7 7.7 0 1 0 -15.4 0zM234.2 862.5a7.7 7.7 0 1 0 15.4 0a7.7 7.7 0 1 0 -15.4 0zM232.2 860.9a7.7 7.7 0 1 0 15.4 0a7.7 7.7 0 1 0 -15.4 0zM230.2 859.4a7.7 7.7 0 1 0 15.4 0a7.7 7.7 0 1 0 -15.4 0zM228.3 858a7.7 7.7 0 1 0 15.4 0a7.7 7.7 0 1 0 -15.4 0zM226.4 856.6a7.7 7.7 0 1 0 15.4 0a7.7 7.7 0 1 0 -15.4 0zM224.6 855.6a7.7 7.7 0 1 0 15.4 0a7.7 7.7 0 1 0 -15.4 0zM222.7 854.9a7.7 7.7 0 1 0 15.4 0a7.7 7.7 0 1 0 -15.4 0zM221 854.4a7.7 7.7 0 1 0 15.4 0a7.7 7.7 0 1 0 -15.4 0zM219.2 854.1a7.7 7.7 0 1 0 15.4 0a7.7 7.7 0 1 0 -15.4 0zM217.5 854.1a7.7 7.7 0 1 0 15.4 0a7.7 7.7 0 1 0 -15.4 0zM215.8 854.6a7.7 7.7 0 1 0 15.4 0a7.7 7.7 0 1 0 -15.4 0zM214.2 855.5a7.7 7.7 0 1 0 15.4 0a7.7 7.7 0 1 0 -15.4 0zM212.5 856.4a7.7 7.7 0 1 0 15.4 0a7.7 7.7 0 1 0 -15.4 0zM210.9 857.4a7.7 7.7 0 1 0 15.4 0a7.7 7.7 0 1 0 -15.4 0zM209.4 858.7a7.7 7.7 0 1 0 15.4 0a7.7 7.7 0 1 0 -15.4 0zM207.8 860.1a7.7 7.7 0 1 0 15.4 0a7.7 7.7 0 1 0 -15.4 0zM206.3 861.5a7.7 7.7 0 1 0 15.4 0a7.7 7.7 0 1 0 -15.4 0zM204.8 862.9a7.7 7.7 0 1 0 15.4 0a7.7 7.7 0 1 0 -15.4 0zM203.3 864.3a7.7 7.7 0 1 0 15.4 0a7.7 7.7 0 1 0 -15.4 0zM201.9 865.7a7.7 7.7 0 1 0 15.4 0a7.7 7.7 0 1 0 -15.4 0zM200.5 867.1a7.7 7.7 0 1 0 15.4 0a7.7 7.7 0 1 0 -15.4 0zM199.1 868.3a7.7 7.7 0 1 0 15.4 0a7.7 7.7 0 1 0 -15.4 0zM197.7 869.5a7.7 7.7 0 1 0 15.4 0a7.7 7.7 0 1 0 -15.4 0zM196.3 870.6a7.7 7.7 0 1 0 15.4 0a7.7 7.7 0 1 0 -15.4 0zM195 871.6a7.7 7.7 0 1 0 15.4 0a7.7 7.7 0 1 0 -15.4 0zM193.7 872.6a7.7 7.7 0 1 0 15.4 0a7.7 7.7 0 1 0 -15.4 0zM192.4 873.5a7.7 7.7 0 1 0 15.4 0a7.7 7.7 0 1 0 -15.4 0z"/>
<polyline fill="none" stroke="#0000ff" stroke-width="2.5" stroke-dasharray="6 10.4" stroke-dashoffset="-5" points="1837.7,1067 1696.9,1093.9 1576.5,1113.6 1472.3,1128.3 1381.3,1139.5 1301.2,1148.2 1230,1155 1166.5,1160.5 1109.3,1164.9 1057.7,1168.6 1010.8,1171.5 968,1174 928.8,1176.1 892.7,1177.8 859.5,1179.3 828.7,1180.6 800.1,1181.7 773.6,1182.7 748.8,1183.5 725.6,1184.2 703.9,1184.9 683.5,1185.4 664.3,1185.9 646.2,1186.4 629.1,1186.8 613,1187.1 597.7,1187.4 583.2,1187.7 569.4,1188 556.3,1188.2 543.8,1188.4 532,1188.6 520.6,1188.8 509.8,1189 499.4,1189.1 489.5,1189.2 480,1189.4 470.8,1189.5 462.1,1189.6 453.7,1189.7 445.6,1189.8 437.8,1189.8 430.3,1189.9 423.1,1190 416.2,1190.1 409.4,1190.1 403,1190.2 396.7,1190.2 390.7,1190.3 384.8,1190.3 379.1,1190.4 373.7,1190.4 368.4,1190.4 363.2,1190.5 358.2,1190.5 353.4,1190.5 348.7,1190.2 344.1,1187.7 339.7,1183.9 335.4,1179.1 331.2,1174 327.1,1168.4 323.2,1162.3 319.3,1155.6 315.6,1146.1 311.9,1131.4 308.4,1116.2 304.9,1102 301.5,1087.8 298.2,1066.2 295,1047.6 291.8,1030.1 288.8,1004.8 285.8,988.8 282.9,963.1 280,949.7 277.2,935 274.5,915.1 271.8,909.4 269.2,899.8 266.7,880.5 264.2,869.9 261.7,855.7 259.3,842.1 257,834.5 254.7,829.5 252.4,825.9 250.2,822.6 248.1,819.9 246,818.4 243.9,818.1 241.9,818.5 239.9,819.5 237.9,820.8 236,822.7 234.1,825.1 232.3,828.3 230.4,831.3 228.7,833.9 226.9,836.5 225.2,839 223.5,841.5 221.9,844.1 220.2,846.9 218.6,849.8 217.1,852.5 215.5,854.8 214,856.9 212.5,859.1 211,861.4 209.6,863.7 208.2,865.7 206.8,867.7 205.4,869.7 204,871.8 202.7,874.3 201.4,878 200.1,881.8"/>
<path fill="#0000ff" d="M1835.7 1056.3h4L1847.5 1073h-19.6zM1694.9 1083.2h4L1706.7 1099.9h-19.6zM1574.5 1102.9h4L1586.3 1119.6h-19.6zM1470.3 1117.6h4L1482.1 1134.3h-19.6zM1379.3 1128.8h4L1391.1 1145.5h-19.6zM1299.2 1137.5h4L1311 1154.2h-19.6zM1228 1144.3h4L1239.8 1161h-19.6zM1164.5 1149.8h4L1176.3 1166.5h-19.6zM1107.3 1154.2h4L1119.1 1170.9h-19.6zM1055.7 1157.9h4L1067.5 1174.6h-19.6zM1008.8 1160.8h4L1020.6 1177.5h-19.6zM966 1163.3h4L977.8 1180h-19.6zM926.8 1165.4h4L938.6 1182.1h-19.6zM890.7 1167.1h4L902.5 1183.8h-19.6zM857.5 1168.6h4L869.3 1185.3h-19.6zM826.7 1169.9h4L838.5 1186.6h-19.6zM798.1 1171h4L809.9 1187.7h-19.6zM771.6 1172h4L783.4 1188.7h-19.6zM746.8 1172.8h4L758.6 1189.5h-19.6zM723.6 1173.5h4L735.4 1190.2h-19.6zM701.9 1174.2h4L713.7 1190.9h-19.6zM681.5 1174.7h4L693.3 1191.4h-19.6zM662.3 1175.2h4L674.1 1191.9h-19.6zM644.2 1175.7h4L656 1192.4h-19.6zM627.1 1176.1h4L638.9 1192.8h-19.6zM611 1176.4h4L622.8 1193.1h-19.6zM595.7 1176.7h4L607.5 1193.4h-19.6zM581.2 1177h4L593 1193.7h-19.6zM567.4 1177.3h4L579.2 1194h-19.6zM554.3 1177.5h4L566.1 1194.2h-19.6zM541.8 1177.7h4L553.6 1194.4h-19.6zM530 1177.9h4L541.8 1194.6h-19.6zM518.6 1178.1h4L530.4 1194.8h-19.6zM507.8 1178.3h4L519.6 1195h-19.6zM502.6 1178.3h4L514.4 1195h-19.6zM497.4 1178.4h4L509.2 1195.1h-19.6zM492.4 1178.5h4L504.2 1195.2h-19.6zM487.5 1178.5h4L499.3 1195.2h-19.6zM482.7 1178.6h4L494.5 1195.3h-19.6zM478 1178.7h4L489.8 1195.4h-19.6zM473.4 1178.7h4L485.2 1195.4h-19.6zM468.8 1178.8h4L480.6 1195.5h-19.6zM464.5 1178.8h4L476.3 1195.5h-19.6zM460.1 1178.9h4L471.9 1195.6h-19.6zM455.9 1178.9h4L467.7 1195.6h-19.6zM451.7 1179h4L463.5 1195.7h-19.6zM447.6 1179h4L459.4 1195.7h-19.6zM443.6 1179.1h4L455.4 1195.8h-19.6zM439.7 1179.1h4L451.5 1195.8h-19.6zM435.8 1179.1h4L447.6 1195.8h-19.6zM432.1 1179.2h4L443.9 1195.9h-19.6zM428.3 1179.2h4L440.1 1195.9h-19.6zM424.7 1179.3h4L436.5 1196h-19.6zM421.1 1179.3h4L432.9 1196h-19.6zM417.6 1179.3h4L429.4 1196h-19.6zM414.2 1179.4h4L426 1196.1h-19.6zM410.8 1179.4h4L422.6 1196.1h-19.6zM407.4 1179.4h4L419.2 1196.1h-19.6zM404.2 1179.4h4L416 1196.1h-19.6zM401 1179.5h4L412.8 1196.2h-19.6zM397.8 1179.5h4L409.6 1196.2h-19.6zM394.7 1179.5h4L406.5 1196.2h-19.6zM391.7 1179.5h4L403.5 1196.2h-19.6zM388.7 1179.6h4L400.5 1196.3h-19.6zM385.7 1179.6h4L397.5 1196.3h-19.6zM382.8 1179.6h4L394.6 1196.3h-19.6zM380 1179.6h4L391.8 1196.3h-19.6zM377.1 1179.7h4L388.9 1196.4h-19.6zM374.4 1179.7h4L386.2 1196.4h-19.6zM371.7 1179.7h4L383.5 1196.4h-19.6zM369 1179.7h4L380.8 1196.4h-19.6zM366.4 1179.7h4L378.2 1196.4h-19.6zM363.8 1179.8h4L375.6 1196.5h-19.6zM361.2 1179.8h4L373 1196.5h-19.6zM358.7 1179.8h4L370.5 1196.5h-19.6zM356.2 1179.8h4L368 1196.5h-19.6zM353.8 1179.8h4L365.6 1196.5h-19.6zM351.4 1179.8h4L363.2 1196.5h-19.6zM349 1179.7h4L360.8 1196.4h-19.6zM346.7 1179.5h4L358.5 1196.2h-19.6zM344.4 1178.3h4L356.2 1195h-19.6zM342.1 1177h4L353.9 1193.7h-19.6zM339.9 1175.1h4L351.7 1191.8h-19.6zM337.7 1173.2h4L349.5 1189.9h-19.6zM335.5 1170.8h4L347.3 1187.5h-19.6zM333.4 1168.4h4L345.2 1185.1h-19.6zM331.3 1165.9h4L343.1 1182.6h-19.6zM329.2 1163.3h4L341 1180h-19.6zM327.2 1160.5h4L339 1177.2h-19.6zM325.1 1157.7h4L336.9 1174.4h-19.6zM323.2 1154.7h4L335 1171.4h-19.6zM321.2 1151.6h4L333 1168.3h-19.6zM319.2 1148.3h4L331 1165h-19.6zM317.3 1144.9h4L329.1 1161.6h-19.6zM315.4 1140.2h4L327.2 1156.9h-19.6zM313.6 1135.4h4L325.4 1152.1h-19.6zM309.9 1120.7h4L321.7 1137.4h-19.6zM306.4 1105.5h4L318.2 1122.2h-19.6zM302.9 1091.3h4L314.7 1108h-19.6zM299.5 1077.1h4L311.3 1093.8h-19.6zM296.2 1055.5h4L308 1072.2h-19.6zM293 1036.9h4L304.8 1053.6h-19.6zM289.8 1019.4h4L301.6 1036.1h-19.6zM286.8 994.1h4L298.6 1010.8h-19.6zM283.8 978.1h4L295.6 994.8h-19.6zM280.9 952.4h4L292.7 969.1h-19.6zM278 939h4L289.8 955.7h-19.6zM275.2 924.3h4L287 941h-19.6zM272.5 904.4h4L284.3 921.1h-19.6zM271.1 901.6h4L282.9 918.3h-19.6zM269.8 898.7h4L281.6 915.4h-19.6zM268.5 893.9h4L280.3 910.6h-19.6zM267.2 889.1h4L279 905.8h-19.6zM264.7 869.8h4L276.5 886.5h-19.6zM262.2 859.2h4L274 875.9h-19.6zM259.7 845h4L271.5 861.7h-19.6zM257.3 831.4h4L269.1 848.1h-19.6zM256.1 827.6h4L267.9 844.3h-19.6zM255 823.8h4L266.8 840.5h-19.6zM253.8 821.3h4L265.6 838h-19.6zM252.7 818.8h4L264.5 835.5h-19.6zM251.6 817h4L263.4 833.7h-19.6zM250.4 815.2h4L262.2 831.9h-19.6zM249.3 813.5h4L261.1 830.2h-19.6zM248.2 811.9h4L260 828.6h-19.6zM247.2 810.5h4L259 827.2h-19.6zM246.1 809.2h4L257.9 825.9h-19.6zM244 807.7h4L255.8 824.4h-19.6zM241.9 807.4h4L253.7 824.1h-19.6zM239.9 807.8h4L251.7 824.5h-19.6zM237.9 808.8h4L249.7 825.5h-19.6zM235.9 810.1h4L247.7 826.8h-19.6zM234 812h4L245.8 828.7h-19.6zM233 813.2h4L244.8 829.9h-19.6zM232.1 814.4h4L243.9 831.1h-19.6zM231.2 816h4L243 832.7h-19.6zM230.3 817.6h4L242.1 834.3h-19.6zM229.4 819.1h4L241.2 835.8h-19.6zM228.4 820.6h4L240.2 837.3h-19.6zM227.6 821.9h4L239.4 838.6h-19.6zM226.7 823.2h4L238.5 839.9h-19.6zM225.8 824.5h4L237.6 841.2h-19.6zM224.9 825.8h4L236.7 842.5h-19.6zM224.1 827h4L235.9 843.7h-19.6zM223.2 828.3h4L235 845h-19.6zM222.4 829.6h4L234.2 846.3h-19.6zM221.5 830.8h4L233.3 847.5h-19.6zM220.7 832.1h4L232.5 848.8h-19.6zM219.9 833.4h4L231.7 850.1h-19.6zM219 834.8h4L230.8 851.5h-19.6zM218.2 836.2h4L230 852.9h-19.6zM217.4 837.6h4L229.2 854.3h-19.6zM216.6 839.1h4L228.4 855.8h-19.6zM215.8 840.5h4L227.6 857.2h-19.6zM215.1 841.8h4L226.9 858.5h-19.6zM213.5 844.1h4L225.3 860.8h-19.6zM212 846.2h4L223.8 862.9h-19.6zM210.5 848.4h4L222.3 865.1h-19.6zM209 850.7h4L220.8 867.4h-19.6zM207.6 853h4L219.4 869.7h-19.6zM206.2 855h4L218 871.7h-19.6zM204.8 857h4L216.6 873.7h-19.6zM203.4 859h4L215.2 875.7h-19.6zM202 861.1h4L213.8 877.8h-19.6zM200.7 863.6h4L212.5 880.3h-19.6zM200 865.5h4L211.8 882.2h-19.6zM199.4 867.3h4L211.2 884h-19.6zM198.7 869.2h4L210.5 885.9h-19.6zM198.1 871.1h4L209.9 887.8h-19.6z"/>
<polyline fill="none" stroke="#008080" stroke-width="2.5" stroke-dasharray="6 10.4" stroke-dashoffset="-5" points="1837.7,1093.9 1696.9,1114.9 1576.5,1130.4 1472.3,1141.9 1381.3,1150.7 1301.2,1157.5 1230,1162.9 1166.5,1167.1 1109.3,1170.6 1057.7,1173.4 1010.8,1175.8 968,1177.7 928.8,1179.4 892.7,1180.7 859.5,1181.9 828.7,1182.9 800.1,1183.8 773.6,1184.5 748.8,1185.2 725.6,1185.8 703.9,1186.3 683.5,1186.7 664.3,1187.1 646.2,1187.4 629.1,1187.7 613,1188 597.7,1188.3 583.2,1188.5 569.4,1188.7 556.3,1188.9 543.8,1189 532,1189.2 520.6,1189.3 509.8,1189.4 499.4,1189.6 489.5,1189.7 480,1189.8 470.8,1189.8 462.1,1189.9 453.7,1190 445.6,1190.1 437.8,1190.1 430.3,1190.2 423.1,1190.3 416.2,1190.3 409.4,1190.4 403,1190.4 396.7,1190.4 390.7,1190.5 384.8,1190.5 379.1,1190.5 373.7,1190.6 368.4,1190.6 363.2,1190.6 358.2,1190.7 353.4,1190.7 348.7,1190.7 344.1,1189.7 339.7,1187.5 335.4,1184.9 331.2,1182.2 327.1,1178.1 323.2,1170.8 319.3,1159.7 315.6,1148.4 311.9,1131.7 308.4,1117.3 304.9,1097.6 301.5,1082.8 298.2,1061.7 295,1037.4 291.8,1014 288.8,994.7 285.8,971.7 282.9,957.7 280,939.1 277.2,925.5 274.5,915.5 271.8,905.5 269.2,896.6 266.7,889 264.2,881.4 261.7,872.8 259.3,866.1 257,860.2 254.7,855.1 252.4,851.2 250.2,848.4 248.1,846.4 246,845.1 243.9,844.2 241.9,844.2 239.9,845 237.9,845.8 236,846.7 234.1,847.7 232.3,848.7 230.4,849.7 228.7,850.8 226.9,851.9 225.2,853 223.5,854 221.9,854.9 220.2,855.9 218.6,857 217.1,858.4 215.5,859.9 214,861.3 212.5,862.7 211,864.1 209.6,865.5 208.2,866.7 206.8,867.9 205.4,868.9 204,869.9 202.7,870.8 201.4,871.6 200.1,872.5"/>
<path fill="#008080" d="M1828.8 1088.9h17.8L1839.7 1103.7h-4zM1688 1109.9h17.8L1698.9 1124.7h-4zM1567.6 1125.4h17.8L1578.5 1140.2h-4zM1463.4 1136.9h17.8L1474.3 1151.7h-4zM1372.4 1145.7h17.8L1383.3 1160.5h-4zM1292.3 1152.5h17.8L1303.2 1167.3h-4zM1221.1 1157.9h17.8L1232 1172.7h-4zM1157.6 1162.1h17.8L1168.5 1176.9h-4zM1100.4 1165.6h17.8L1111.3 1180.4h-4zM1048.8 1168.4h17.8L1059.7 1183.2h-4zM1001.9 1170.8h17.8L1012.8 1185.6h-4zM959.1 1172.7h17.8L970 1187.5h-4zM919.9 1174.4h17.8L930.8 1189.2h-4zM883.8 1175.7h17.8L894.7 1190.5h-4zM850.6 1176.9h17.8L861.5 1191.7h-4zM819.8 1177.9h17.8L830.7 1192.7h-4zM791.2 1178.8h17.8L802.1 1193.6h-4zM764.7 1179.5h17.8L775.6 1194.3h-4zM739.9 1180.2h17.8L750.8 1195h-4zM716.7 1180.8h17.8L727.6 1195.6h-4zM695 1181.3h17.8L705.9 1196.1h-4zM674.6 1181.7h17.8L685.5 1196.5h-4zM655.4 1182.1h17.8L666.3 1196.9h-4zM637.3 1182.4h17.8L648.2 1197.2h-4zM620.2 1182.7h17.8L631.1 1197.5h-4zM604.1 1183h17.8L615 1197.8h-4zM588.8 1183.3h17.8L599.7 1198.1h-4zM574.3 1183.5h17.8L585.2 1198.3h-4zM560.5 1183.7h17.8L571.4 1198.5h-4zM547.4 1183.9h17.8L558.3 1198.7h-4zM534.9 1184h17.8L545.8 1198.8h-4zM523.1 1184.2h17.8L534 1199h-4zM511.7 1184.3h17.8L522.6 1199.1h-4zM500.9 1184.4h17.8L511.8 1199.2h-4zM495.7 1184.5h17.8L506.6 1199.3h-4zM490.5 1184.6h17.8L501.4 1199.4h-4zM485.5 1184.6h17.8L496.4 1199.4h-4zM480.6 1184.7h17.8L491.5 1199.5h-4zM475.8 1184.7h17.8L486.7 1199.5h-4zM471.1 1184.8h17.8L482 1199.6h-4zM466.5 1184.8h17.8L477.4 1199.6h-4zM461.9 1184.8h17.8L472.8 1199.6h-4zM457.6 1184.9h17.8L468.5 1199.7h-4zM453.2 1184.9h17.8L464.1 1199.7h-4zM449 1185h17.8L459.9 1199.8h-4zM444.8 1185h17.8L455.7 1199.8h-4zM440.7 1185h17.8L451.6 1199.8h-4zM436.7 1185.1h17.8L447.6 1199.9h-4zM432.8 1185.1h17.8L443.7 1199.9h-4zM428.9 1185.1h17.8L439.8 1199.9h-4zM425.2 1185.2h17.8L436.1 1200h-4zM421.4 1185.2h17.8L432.3 1200h-4zM417.8 1185.2h17.8L428.7 1200h-4zM414.2 1185.3h17.8L425.1 1200.1h-4zM410.7 1185.3h17.8L421.6 1200.1h-4zM407.3 1185.3h17.8L418.2 1200.1h-4zM403.9 1185.3h17.8L414.8 1200.1h-4zM400.5 1185.4h17.8L411.4 1200.2h-4zM397.3 1185.4h17.8L408.2 1200.2h-4zM394.1 1185.4h17.8L405 1200.2h-4zM390.9 1185.4h17.8L401.8 1200.2h-4zM387.8 1185.4h17.8L398.7 1200.2h-4zM384.8 1185.5h17.8L395.7 1200.3h-4zM381.8 1185.5h17.8L392.7 1200.3h-4zM378.8 1185.5h17.8L389.7 1200.3h-4zM375.9 1185.5h17.8L386.8 1200.3h-4zM373.1 1185.5h17.8L384 1200.3h-4zM370.2 1185.5h17.8L381.1 1200.3h-4zM367.5 1185.6h17.8L378.4 1200.4h-4zM364.8 1185.6h17.8L375.7 1200.4h-4zM362.1 1185.6h17.8L373 1200.4h-4zM359.5 1185.6h17.8L370.4 1200.4h-4zM356.9 1185.6h17.8L367.8 1200.4h-4zM354.3 1185.6h17.8L365.2 1200.4h-4zM351.8 1185.7h17.8L362.7 1200.5h-4zM349.3 1185.7h17.8L360.2 1200.5h-4zM346.9 1185.7h17.8L357.8 1200.5h-4zM344.5 1185.7h17.8L355.4 1200.5h-4zM342.1 1185.7h17.8L353 1200.5h-4zM339.8 1185.7h17.8L350.7 1200.5h-4zM337.5 1185.2h17.8L348.4 1200h-4zM335.2 1184.7h17.8L346.1 1199.5h-4zM333 1183.6h17.8L343.9 1198.4h-4zM330.8 1182.5h17.8L341.7 1197.3h-4zM328.6 1181.2h17.8L339.5 1196h-4zM326.5 1179.9h17.8L337.4 1194.7h-4zM324.4 1178.5h17.8L335.3 1193.3h-4zM322.3 1177.2h17.8L333.2 1192h-4zM320.3 1175.2h17.8L331.2 1190h-4zM318.2 1173.1h17.8L329.1 1187.9h-4zM316.3 1169.5h17.8L327.2 1184.3h-4zM314.3 1165.8h17.8L325.2 1180.6h-4zM310.4 1154.7h17.8L321.3 1169.5h-4zM306.7 1143.4h17.8L317.6 1158.2h-4zM303 1126.7h17.8L313.9 1141.5h-4zM299.5 1112.3h17.8L310.4 1127.1h-4zM296 1092.6h17.8L306.9 1107.4h-4zM292.6 1077.8h17.8L303.5 1092.6h-4zM289.3 1056.7h17.8L300.2 1071.5h-4zM286.1 1032.4h17.8L297 1047.2h-4zM282.9 1009h17.8L293.8 1023.8h-4zM279.9 989.7h17.8L290.8 1004.5h-4zM276.9 966.7h17.8L287.8 981.5h-4zM274 952.7h17.8L284.9 967.5h-4zM271.1 934.1h17.8L282 948.9h-4zM268.3 920.5h17.8L279.2 935.3h-4zM266.9 915.5h17.8L277.8 930.3h-4zM265.6 910.5h17.8L276.5 925.3h-4zM264.2 905.5h17.8L275.1 920.3h-4zM262.9 900.5h17.8L273.8 915.3h-4zM261.6 896h17.8L272.5 910.8h-4zM260.3 891.6h17.8L271.2 906.4h-4zM259 887.8h17.8L269.9 902.6h-4zM257.8 884h17.8L268.7 898.8h-4zM256.5 880.2h17.8L267.4 895h-4zM255.3 876.4h17.8L266.2 891.2h-4zM254 872.1h17.8L264.9 886.9h-4zM252.8 867.8h17.8L263.7 882.6h-4zM251.6 864.4h17.8L262.5 879.2h-4zM250.4 861.1h17.8L261.3 875.9h-4zM249.2 858.1h17.8L260.1 872.9h-4zM248.1 855.2h17.8L259 870h-4zM246.9 852.7h17.8L257.8 867.5h-4zM245.8 850.1h17.8L256.7 864.9h-4zM244.7 848.1h17.8L255.6 862.9h-4zM243.5 846.2h17.8L254.4 861h-4zM242.4 844.8h17.8L253.3 859.6h-4zM241.3 843.4h17.8L252.2 858.2h-4zM239.2 841.4h17.8L250.1 856.2h-4zM237.1 840.1h17.8L248 854.9h-4zM235 839.2h17.8L245.9 854h-4zM233 839.2h17.8L243.9 854h-4zM231 840h17.8L241.9 854.8h-4zM229 840.8h17.8L239.9 855.6h-4zM227.1 841.7h17.8L238 856.5h-4zM225.2 842.7h17.8L236.1 857.5h-4zM223.4 843.7h17.8L234.3 858.5h-4zM221.5 844.7h17.8L232.4 859.5h-4zM219.8 845.8h17.8L230.7 860.6h-4zM218 846.9h17.8L228.9 861.7h-4zM216.3 848h17.8L227.2 862.8h-4zM214.6 849h17.8L225.5 863.8h-4zM213 849.9h17.8L223.9 864.7h-4zM211.3 850.9h17.8L222.2 865.7h-4zM209.7 852h17.8L220.6 866.8h-4zM208.2 853.4h17.8L219.1 868.2h-4zM206.6 854.9h17.8L217.5 869.7h-4zM205.1 856.3h17.8L216 871.1h-4zM203.6 857.7h17.8L214.5 872.5h-4zM202.1 859.1h17.8L213 873.9h-4zM200.7 860.5h17.8L211.6 875.3h-4zM199.3 861.7h17.8L210.2 876.5h-4zM197.9 862.9h17.8L208.8 877.7h-4zM196.5 863.9h17.8L207.4 878.7h-4zM195.1 864.9h17.8L206 879.7h-4zM193.8 865.8h17.8L204.7 880.6h-4zM192.5 866.6h17.8L203.4 881.4h-4zM191.2 867.5h17.8L202.1 882.3h-4z"/>
</g>
<path d="M184.7 44.8H1861.7M173.1 1264.8H1851.3M197.5 42.3V1267.3" stroke="#000" stroke-width="5.0" fill="none"/><path d="M1837.0 42.3V1278.3" stroke="#000" stroke-width="4.4" fill="none"/><path d="M173.1 1264.8H197.5M173.1 1148.3H197.5M173.1 1031.8H197.5M173.1 915.3H197.5M173.1 798.8H197.5M173.1 683H197.5M173.1 567.2H197.5M173.1 451.4H197.5M173.1 335.6H197.5M173.1 219.8H197.5M173.1 104H197.5M1837.0 1191.8H1861.7M1837.0 1048.4H1861.7M1837.0 905H1861.7M1837.0 761.6H1861.7M1837.0 618.2H1861.7M1837.0 474.8H1861.7M1837.0 331.4H1861.7M1837.0 188H1861.7M206.5 1264.8V1289.2M378.1 1264.8V1289.2M549.7 1264.8V1289.2M721.2 1264.8V1289.2M892.8 1264.8V1289.2M1064.4 1264.8V1289.2M1236 1264.8V1289.2M1407.6 1264.8V1289.2M1579.1 1264.8V1289.2M1750.7 1264.8V1289.2" stroke="#000" stroke-width="4.6" fill="none"/><path d="M184.7 1207.1H197.5M184.7 1090.6H197.5M184.7 974.1H197.5M184.7 857.6H197.5M184.7 741.5H197.5M184.7 625.7H197.5M184.7 509.9H197.5M184.7 394.1H197.5M184.7 278.3H197.5M184.7 162.5H197.5M1837.0 1120.9H1851.3M1837.0 977.5H1851.3M1837.0 834.1H1851.3M1837.0 690.7H1851.3M1837.0 547.3H1851.3M1837.0 403.9H1851.3M1837.0 260.5H1851.3M1837.0 117.1H1851.3M292.3 1264.8V1278.3M463.9 1264.8V1278.3M635.5 1264.8V1278.3M807 1264.8V1278.3M978.6 1264.8V1278.3M1150.2 1264.8V1278.3M1321.8 1264.8V1278.3M1493.3 1264.8V1278.3M1664.9 1264.8V1278.3" stroke="#000" stroke-width="3.6" fill="none"/>
<g font-size="62" fill="#000"><text x="157.5" y="1283.8" text-anchor="end">-4</text><text x="157.5" y="1167.3" text-anchor="end">-3</text><text x="157.5" y="1050.8" text-anchor="end">-2</text><text x="157.5" y="934.3" text-anchor="end">-1</text><text x="157.5" y="817.8" text-anchor="end">0</text><text x="157.5" y="702" text-anchor="end">1</text><text x="157.5" y="586.2" text-anchor="end">2</text><text x="157.5" y="470.4" text-anchor="end">3</text><text x="157.5" y="354.6" text-anchor="end">4</text><text x="157.5" y="238.8" text-anchor="end">5</text><text x="157.5" y="123" text-anchor="end">6</text><text x="1893.5" y="1208.8" text-anchor="middle">0</text><text x="1893.5" y="1065.4" text-anchor="middle">1</text><text x="1893.5" y="922" text-anchor="middle">2</text><text x="1893.5" y="778.6" text-anchor="middle">3</text><text x="1893.5" y="635.2" text-anchor="middle">4</text><text x="1893.5" y="491.8" text-anchor="middle">5</text><text x="1893.5" y="348.4" text-anchor="middle">6</text><text x="1893.5" y="205" text-anchor="middle">7</text><text x="1893.5" y="61.6" text-anchor="middle">8</text><text x="206.5" y="1352" text-anchor="middle">200</text><text x="378.1" y="1352" text-anchor="middle">400</text><text x="549.7" y="1352" text-anchor="middle">600</text><text x="721.2" y="1352" text-anchor="middle">800</text><text x="892.8" y="1352" text-anchor="middle">1000</text><text x="1064.4" y="1352" text-anchor="middle">1200</text><text x="1236" y="1352" text-anchor="middle">1400</text><text x="1407.6" y="1352" text-anchor="middle">1600</text><text x="1579.1" y="1352" text-anchor="middle">1800</text><text x="1750.7" y="1352" text-anchor="middle">2000</text></g>
<text x="1016.8" y="1462" font-size="62.3" text-anchor="middle">Wavelength(nm)</text>
<text transform="translate(64.6 661.2) rotate(-90)" font-size="63.4" text-anchor="middle">Re(Epsilon)</text>
<text transform="translate(1940 672.5) rotate(90)" font-size="63.2" text-anchor="middle">Im(Epsilon)</text>
<line x1="1605.3" y1="108.4" x2="1662" y2="108.4" stroke="#c9d6d9" stroke-width="2.4"/><path fill="#000000" d="M1625 102.1h15.8v15.2h-15.8z"/><text x="1671.5" y="119.9" font-size="39.5">S0(Re)</text><line x1="1605.3" y1="159.9" x2="1662" y2="159.9" stroke="#ff0000" stroke-width="3.5"/><path fill="#ff0000" d="M1625 159.2a7.9 7.9 0 1 0 15.7 0a7.9 7.9 0 1 0 -15.7 0z"/><text x="1671.5" y="168.9" font-size="39.5">S1(Re)</text><line x1="1605.3" y1="208.6" x2="1662" y2="208.6" stroke="#2a2aff" stroke-width="3.5"/><path fill="#0000ff" d="M1630.9 198.5h4L1642.7 215.2h-19.6z"/><text x="1671.5" y="217.8" font-size="39.5">S2(Re)</text><line x1="1605.3" y1="259.7" x2="1662" y2="259.7" stroke="#0a9090" stroke-width="3.5"/><path fill="#008080" d="M1623.6 254.8h18.7L1635 270.4h-4.2z"/><text x="1671.5" y="268.2" font-size="39.5">S3(Re)</text><path d="M1605.3 308.5h8M1621 308.5h8M1643.3 308.5h8.5M1658.8 308.5h3.2" stroke="#000000" stroke-width="3.2" fill="none"/><path fill="#000000" d="M1625 300.9h15.8v15.2h-15.8z"/><text x="1671.5" y="318.0" font-size="39.5">S0(Im)</text><path d="M1605.3 358.2h8M1621 358.2h8M1643.3 358.2h8.5M1658.8 358.2h3.2" stroke="#ffd2c0" stroke-width="3.2" fill="none"/><path fill="#ff0000" d="M1625 357.4a7.9 7.9 0 1 0 15.7 0a7.9 7.9 0 1 0 -15.7 0z"/><text x="1671.5" y="366.9" font-size="39.5">S1(Im)</text><path d="M1605.3 408.6h8M1621 408.6h8M1643.3 408.6h8.5M1658.8 408.6h3.2" stroke="#a9a9ff" stroke-width="3.2" fill="none"/><path fill="#0000ff" d="M1630.9 398h4.1L1642.9 415h-20z"/><text x="1671.5" y="416.8" font-size="39.5">S2(Im)</text><path d="M1605.3 457.3h8M1621 457.3h8M1643.3 457.3h8.5M1658.8 457.3h3.2" stroke="#19a59a" stroke-width="3.2" fill="none"/><path fill="#008080" d="M1623.6 451.7h18.7L1635 467.2h-4.2z"/><text x="1671.5" y="466.8" font-size="39.5">S3(Im)</text>
</svg>
</body></html>
